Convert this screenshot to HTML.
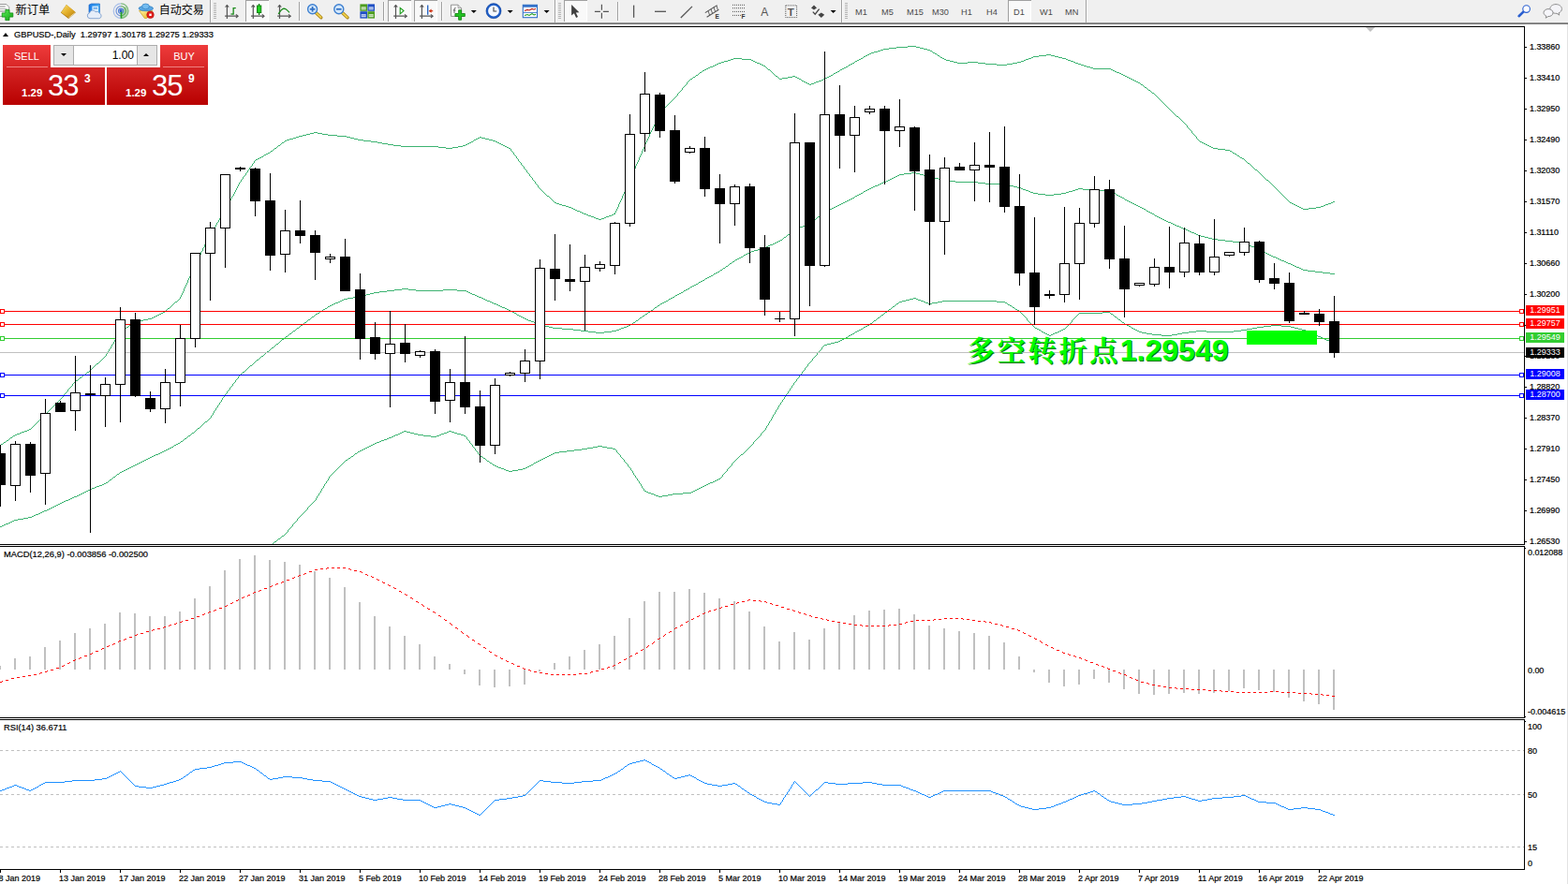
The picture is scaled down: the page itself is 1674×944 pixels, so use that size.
<!DOCTYPE html>
<html><head><meta charset="utf-8"><title>GBPUSD Daily</title>
<style>
html,body{margin:0;padding:0;background:#fff;}
body{width:1674px;height:944px;position:relative;overflow:hidden;font-family:"Liberation Sans",sans-serif;font-size:9px;color:#000;}
#tb{position:absolute;left:0;top:0;width:1674px;height:25px;background:#f0f0f0;}
#tbl{position:absolute;left:0;top:24px;width:1674px;height:2px;background:linear-gradient(#a0a0a0,#696969);}
svg.main{position:absolute;left:0;top:0;}
.yl,.dl,.lbl{-webkit-text-stroke:0.2px #000;}
.yl{position:absolute;left:1633px;height:12px;line-height:12px;font-size:9px;white-space:nowrap;letter-spacing:-0.05px}
.dl{position:absolute;top:932px;height:12px;line-height:12px;font-size:9px;white-space:nowrap;}
.pb{position:absolute;left:1629px;width:41px;height:11px;line-height:11px;color:#fff;font-size:9px;text-indent:4.3px;white-space:nowrap;}
.lbl{position:absolute;height:12px;line-height:12px;font-size:9px;white-space:nowrap;}
.bignum{position:absolute;font-size:32px;font-weight:bold;line-height:36px;height:36px;color:#00ff00;white-space:nowrap;}
.bignum.sh{color:#007000;}
.tf{position:absolute;top:6.6px;height:13px;line-height:13px;font-size:9.2px;color:#4a4a4a;white-space:nowrap;}
#rb{position:absolute;left:1673px;top:26px;width:1px;height:918px;background:#e3e3e3;}
/* one click panel */
#oc{position:absolute;left:3px;top:48px;width:219px;height:64px;}
.red{position:absolute;background:linear-gradient(#ee3b3b 0%,#d42222 45%,#b80000 100%);}
.oct{position:absolute;color:#fff;white-space:nowrap;}
</style></head><body>
<div id="tb"></div><div id="tbl"></div><div id="rb"></div>
<svg class="main" width="1674" height="944" viewBox="0 0 1674 944" shape-rendering="crispEdges">
<defs><clipPath id="cm"><rect x="0" y="29" width="1627" height="552"/></clipPath></defs>
<rect x="0" y="28" width="1628" height="1" fill="#000" /><rect x="1627" y="28" width="1" height="901" fill="#000" /><rect x="0" y="581" width="1628" height="1" fill="#000" /><rect x="0" y="583" width="1628" height="1" fill="#000" /><rect x="0" y="766" width="1628" height="1" fill="#000" /><rect x="0" y="768" width="1628" height="1" fill="#000" /><rect x="0" y="928" width="1628" height="1" fill="#000" /><g clip-path="url(#cm)"><path d="M0 475.5h1M1 474.5h2M3 473.5h1M4 472.5h2M6 471.5h1M7 470.5h2M9 469.5h1M10 468.5h1M11 467.5h2M13 466.5h1M14 465.5h2M16 464.5h2M18 463.5h3M21 462.5h2M23 461.5h3M26 460.5h3M29 459.5h2M31 458.5h2M33 457.5h1M34 456.5h1M35 455.5h1M36 454.5h1M37 453.5h1M38 452.5h1M39 451.5h1M40 450.5h1M41 449.5h1M42 448.5h1M43 447.5h1M44 446.5h1M45 445.5h1M46 444.5h1M47 443.5h1M48 442.5h1M49 441.5h1M50 440.5h1M51 439.5h1M52 438.5h1M53 437.5h1M54 436.5h1M55 435.5h1M56 434.5h1M57 433.5h1M58 432.5h1M59 431.5h1M60 430.5h1M61 429.5h1M62 428.5h1M63 427.5h1M64 426.5h1M65 425.5h1M66 424.5h1M67.5 422v2M68 421.5h1M69 420.5h1M70 419.5h1M71 418.5h1M72.5 416v2M73 415.5h1M74 414.5h1M75 413.5h1M76 412.5h1M77.5 410v2M78 409.5h1M79 408.5h1M80 407.5h1M81 406.5h2M83 405.5h1M84 404.5h1M85 403.5h2M87 402.5h1M88 401.5h1M89 400.5h2M91 399.5h1M92 398.5h1M93 397.5h2M95 396.5h1M96 395.5h1M97 394.5h1M98 393.5h1M99 392.5h1M100 391.5h1M101 390.5h1M102 389.5h1M103 388.5h2M105 387.5h1M106 386.5h1M107 385.5h1M108 384.5h1M109 383.5h1M110 382.5h1M111 381.5h1M112 380.5h1M113.5 378v2M114.5 376v2M115 375.5h1M116.5 373v2M117 372.5h1M118.5 370v2M119.5 368v2M120 367.5h1M121.5 365v2M122.5 363v2M123 362.5h1M124.5 360v2M125 359.5h1M126.5 357v2M127.5 355v2M128 354.5h1M129 353.5h2M131 352.5h1M132 351.5h2M134 350.5h1M135 349.5h2M137 348.5h1M138 347.5h1M139 346.5h2M141 345.5h1M142 344.5h2M144 343.5h3M147 342.5h6M153 341.5h5M158 340.5h4M162 339.5h2M164 338.5h2M166 337.5h2M168 336.5h2M170 335.5h2M172 334.5h2M174 333.5h2M176 332.5h1M177 331.5h1M178 330.5h1M179 329.5h2M181 328.5h1M182 327.5h1M183 326.5h1M184 325.5h1M185 324.5h1M186 323.5h1M187 322.5h2M189 321.5h1M190 320.5h1M191 319.5h1M192.5 317v2M193.5 315v2M194.5 313v2M195.5 311v2M196.5 308v3M197.5 306v2M198.5 304v2M199.5 302v2M200.5 299v3M201.5 297v2M202.5 295v2M203.5 293v2M204.5 290v3M205.5 288v2M206.5 286v2M207.5 284v2M208.5 281v3M209 280.5h1M210.5 277v3M211 276.5h1M212.5 273v3M213 272.5h1M214.5 269v3M215 268.5h1M216.5 265v3M217 264.5h1M218.5 261v3M219 260.5h1M220.5 257v3M221 256.5h1M222.5 253v3M223 252.5h1M224.5 250v2M225.5 248v2M226.5 246v2M227 245.5h1M228.5 243v2M229 242.5h1M230.5 240v2M231.5 238v2M232 237.5h1M233.5 235v2M234.5 233v2M235 232.5h1M236.5 230v2M237 229.5h1M238.5 227v2M239.5 225v2M240 224.5h1M241.5 222v2M242.5 220v2M243.5 218v2M244.5 216v2M245.5 214v2M246.5 212v2M247.5 210v2M248 209.5h1M249.5 207v2M250.5 205v2M251.5 203v2M252.5 201v2M253.5 199v2M254.5 197v2M255.5 195v2M256 194.5h1M257.5 192v2M258 191.5h1M259.5 189v2M260 188.5h1M261 187.5h1M262.5 185v2M263 184.5h1M264.5 182v2M265 181.5h1M266.5 179v2M267 178.5h1M268 177.5h1M269.5 175v2M270 174.5h1M271.5 172v2M272 171.5h1M273 170.5h2M275 169.5h2M277 168.5h2M279 167.5h2M281 166.5h1M282 165.5h2M284 164.5h2M286 163.5h2M288 162.5h1M289 161.5h2M291 160.5h1M292 159.5h1M293 158.5h2M295 157.5h1M296 156.5h1M297 155.5h2M299 154.5h1M300 153.5h1M301 152.5h2M303 151.5h1M304 150.5h2M306 149.5h3M309 148.5h4M313 147.5h3M316 146.5h3M319 145.5h4M323 144.5h4M327 143.5h4M331 142.5h4M335 141.5h4M339 142.5h5M344 143.5h6M350 144.5h10M360 145.5h10M370 146.5h4M374 147.5h4M378 148.5h4M382 149.5h6M388 150.5h8M396 151.5h7M403 152.5h5M408 153.5h6M414 154.5h6M420 155.5h8M428 156.5h40M468 157.5h8M476 158.5h7M483 157.5h6M489 156.5h5M494 155.5h3M497 154.5h2M499 153.5h2M501 152.5h2M503 151.5h2M505 150.5h1M506 149.5h2M508 148.5h2M510 147.5h2M512 146.5h2M514 147.5h4M518 148.5h4M522 149.5h4M526 150.5h3M529 151.5h2M531 152.5h2M533 153.5h2M535 154.5h2M537 155.5h2M539 156.5h2M541 157.5h2M543 158.5h2M545.5 159v2M546 161.5h1M547 162.5h1M548.5 163v2M549 165.5h1M550 166.5h1M551.5 167v2M552 169.5h1M553.5 170v2M554 172.5h1M555 173.5h1M556.5 174v2M557 176.5h1M558 177.5h1M559.5 178v2M560 180.5h1M561 181.5h1M562.5 182v2M563 184.5h1M564 185.5h1M565.5 186v2M566 188.5h1M567 189.5h1M568.5 190v2M569 192.5h1M570 193.5h1M571.5 194v2M572 196.5h1M573 197.5h1M574.5 198v2M575 200.5h1M576 201.5h1M577 202.5h1M578 203.5h1M579 204.5h1M580 205.5h1M581 206.5h1M582 207.5h1M583 208.5h1M584 209.5h2M586 210.5h1M587 211.5h1M588 212.5h1M589 213.5h1M590 214.5h1M591 215.5h1M592 216.5h2M594 217.5h3M597 218.5h3M600 219.5h4M604 220.5h3M607 221.5h3M610 222.5h2M612 223.5h2M614 224.5h2M616 225.5h3M619 226.5h2M621 227.5h2M623 228.5h3M626 229.5h2M628 230.5h3M631 231.5h3M634 232.5h2M636 233.5h3M639 234.5h3M642 233.5h3M645 232.5h2M647 231.5h3M650 230.5h3M653 229.5h2M655 228.5h2M656 227.5h1M657.5 225v2M658.5 223v2M659.5 221v2M660.5 218v3M661.5 216v2M662.5 214v2M663.5 212v2M664.5 209v3M665.5 207v2M666.5 205v2M667.5 203v2M668.5 200v3M669.5 198v2M670.5 196v2M671.5 194v2M672.5 191v3M673.5 189v2M674.5 187v2M675.5 184v3M676.5 182v2M677.5 180v2M678.5 177v3M679.5 175v2M680.5 173v2M681.5 171v2M682.5 168v3M683.5 166v2M684.5 164v2M685.5 161v3M686.5 159v2M687.5 157v2M688.5 154v3M689.5 152v2M690.5 150v2M691.5 148v2M692.5 146v2M693.5 143v3M694.5 141v2M695.5 139v2M696.5 137v2M697.5 135v2M698.5 133v2M699.5 130v3M700.5 128v2M701.5 126v2M702.5 124v2M703.5 122v2M704.5 120v2M705 119.5h1M706 118.5h1M707 117.5h1M708 116.5h1M709 115.5h1M710 114.5h1M711 113.5h1M712 112.5h1M713 111.5h1M714 110.5h1M715 109.5h1M716 108.5h1M717 107.5h1M718 106.5h1M719 105.5h1M720 104.5h1M721 103.5h1M722 102.5h1M723.5 100v2M724 99.5h1M725 98.5h1M726 97.5h1M727 96.5h1M728.5 94v2M729 93.5h1M730 92.5h1M731 91.5h1M732 90.5h1M733.5 88v2M734 87.5h1M735 86.5h1M736 85.5h1M737 84.5h2M739 83.5h1M740 82.5h2M742 81.5h1M743 80.5h2M745 79.5h1M746 78.5h1M747 77.5h2M749 76.5h1M750 75.5h2M752 74.5h2M754 73.5h2M756 72.5h2M758 71.5h3M761 70.5h2M763 69.5h2M765 68.5h2M767 67.5h3M770 66.5h3M773 65.5h4M777 64.5h3M780 63.5h3M783 62.5h9M792 63.5h10M802 64.5h2M804 65.5h2M806 66.5h2M808 67.5h3M811 68.5h2M813 69.5h2M815 70.5h2M817 71.5h1M818 72.5h1M819 73.5h1M820 74.5h2M822 75.5h1M823 76.5h1M824 77.5h1M825 78.5h1M826 79.5h1M827 80.5h1M828 81.5h2M830 82.5h1M831 83.5h1M832 84.5h3M835 83.5h6M841 82.5h5M846 81.5h3M849 82.5h2M851 83.5h2M853 84.5h2M855 85.5h1M856 86.5h2M858 87.5h2M860 88.5h2M862 89.5h2M864 90.5h2M866 89.5h3M869 88.5h2M871 87.5h3M874 86.5h3M877 85.5h2M879 84.5h2M881 83.5h2M883 82.5h2M885 81.5h2M887 80.5h2M889 79.5h1M890 78.5h2M892 77.5h2M894 76.5h2M896 75.5h1M897 74.5h2M899 73.5h2M901 72.5h2M903 71.5h2M905 70.5h1M906 69.5h2M908 68.5h2M910 67.5h2M912 66.5h1M913 65.5h2M915 64.5h2M917 63.5h2M919 62.5h2M921 61.5h1M922 60.5h2M924 59.5h2M926 58.5h2M928 57.5h2M930 56.5h3M933 55.5h4M937 54.5h3M940 53.5h3M943 52.5h6M949 51.5h8M957 50.5h12M969 49.5h9M978 50.5h4M982 51.5h4M986 52.5h4M990 53.5h3M993 54.5h2M995 55.5h1M996 56.5h2M998 57.5h2M1000 58.5h1M1001 59.5h2M1003 60.5h1M1004 61.5h2M1006 62.5h2M1008 63.5h2M1010 64.5h4M1014 65.5h4M1018 66.5h4M1022 67.5h11M1033 66.5h11M1044 67.5h8M1052 68.5h12M1064 69.5h11M1075 68.5h6M1081 67.5h5M1086 66.5h4M1090 65.5h3M1093 64.5h2M1095 63.5h3M1098 62.5h3M1101 61.5h2M1103 60.5h6M1109 59.5h8M1117 58.5h5M1122 59.5h4M1126 60.5h4M1130 61.5h4M1134 62.5h4M1138 63.5h2M1140 64.5h3M1143 65.5h3M1146 66.5h2M1148 67.5h3M1151 68.5h3M1154 69.5h3M1157 70.5h3M1160 71.5h4M1164 72.5h3M1167 73.5h19M1186 74.5h2M1188 75.5h2M1190 76.5h2M1192 77.5h3M1195 78.5h2M1197 79.5h2M1199 80.5h2M1201 81.5h2M1203 82.5h2M1205 83.5h2M1207 84.5h2M1209 85.5h2M1211 86.5h2M1213 87.5h2M1215 88.5h2M1217 89.5h1M1218 90.5h2M1220 91.5h1M1221 92.5h1M1222 93.5h2M1224 94.5h1M1225 95.5h1M1226 96.5h2M1228 97.5h1M1229 98.5h1M1230 99.5h2M1232 100.5h1M1233 101.5h1M1234 102.5h1M1235 103.5h1M1236 104.5h1M1237 105.5h1M1238 106.5h1M1239 107.5h1M1240 108.5h1M1241 109.5h1M1242 110.5h1M1243 111.5h1M1244 112.5h1M1245 113.5h1M1246 114.5h1M1247 115.5h1M1248 116.5h1M1249 117.5h1M1250 118.5h1M1251 119.5h1M1252 120.5h1M1253 121.5h1M1254 122.5h1M1255 123.5h1M1256 124.5h2M1258 125.5h1M1259 126.5h1M1260 127.5h1M1261 128.5h1M1262 129.5h1M1263 130.5h1M1264 131.5h1M1265 132.5h1M1266 133.5h1M1267.5 134v2M1268 136.5h1M1269 137.5h1M1270 138.5h1M1271 139.5h1M1272.5 140v2M1273 142.5h1M1274 143.5h1M1275 144.5h1M1276 145.5h1M1277.5 146v2M1278 148.5h1M1279 149.5h1M1280 150.5h1M1281 151.5h2M1283 152.5h2M1285 153.5h2M1287 154.5h2M1289 155.5h2M1291 156.5h2M1293 157.5h2M1295 158.5h5M1300 159.5h8M1308 160.5h5M1313 161.5h2M1315 162.5h1M1316 163.5h2M1318 164.5h2M1320 165.5h1M1321 166.5h2M1323 167.5h1M1324 168.5h2M1326 169.5h2M1328 170.5h1M1329 171.5h1M1330 172.5h1M1331 173.5h1M1332 174.5h2M1334 175.5h1M1335 176.5h1M1336 177.5h1M1337 178.5h1M1338 179.5h1M1339 180.5h1M1340 181.5h2M1342 182.5h1M1343 183.5h1M1344 184.5h1M1345 185.5h1M1346 186.5h1M1347 187.5h1M1348 188.5h1M1349 189.5h1M1350 190.5h1M1351 191.5h1M1352 192.5h2M1354 193.5h1M1355 194.5h1M1356 195.5h1M1357 196.5h1M1358 197.5h1M1359 198.5h1M1360 199.5h1M1361 200.5h1M1362 201.5h1M1363 202.5h1M1364 203.5h1M1365 204.5h1M1366 205.5h1M1367 206.5h1M1368 207.5h1M1369 208.5h1M1370 209.5h1M1371 210.5h1M1372 211.5h1M1373 212.5h1M1374 213.5h1M1375 214.5h1M1376 215.5h1M1377 216.5h2M1379 217.5h2M1381 218.5h2M1383 219.5h2M1385 220.5h2M1387 221.5h2M1389 222.5h2M1391 223.5h6M1397 222.5h8M1405 221.5h5M1410 220.5h3M1413 219.5h2M1415 218.5h3M1418 217.5h3M1421 216.5h2M1423 215.5h2" fill="none" stroke="#3cb371" stroke-width="1" /><path d="M0 562.5h2M2 561.5h2M4 560.5h2M6 559.5h3M9 558.5h2M11 557.5h2M13 556.5h2M15 555.5h4M19 554.5h6M25 553.5h5M30 552.5h4M34 551.5h2M36 550.5h2M38 549.5h3M41 548.5h2M43 547.5h2M45 546.5h2M47 545.5h3M50 544.5h2M52 543.5h2M54 542.5h2M56 541.5h2M58 540.5h2M60 539.5h2M62 538.5h2M64 537.5h2M66 536.5h2M68 535.5h2M70 534.5h3M73 533.5h2M75 532.5h2M77 531.5h2M79 530.5h3M82 529.5h2M84 528.5h2M86 527.5h2M88 526.5h2M90 525.5h2M92 524.5h2M94 523.5h2M96 522.5h2M98 521.5h3M101 520.5h2M103 519.5h3M106 518.5h3M109 517.5h2M111 516.5h2M113 515.5h2M115 514.5h1M116 513.5h1M117 512.5h2M119 511.5h1M120 510.5h1M121 509.5h2M123 508.5h1M124 507.5h1M125 506.5h2M127 505.5h1M128 504.5h2M130 503.5h2M132 502.5h2M134 501.5h2M136 500.5h2M138 499.5h2M140 498.5h2M142 497.5h2M144 496.5h2M146 495.5h2M148 494.5h2M150 493.5h2M152 492.5h2M154 491.5h2M156 490.5h2M158 489.5h2M160 488.5h2M162 487.5h2M164 486.5h2M166 485.5h3M169 484.5h2M171 483.5h2M173 482.5h2M175 481.5h2M177 480.5h2M179 479.5h2M181 478.5h2M183 477.5h2M185 476.5h1M186 475.5h2M188 474.5h2M190 473.5h2M192 472.5h1M193 471.5h2M195 470.5h1M196 469.5h1M197 468.5h2M199 467.5h1M200 466.5h1M201 465.5h2M203 464.5h1M204 463.5h1M205 462.5h2M207 461.5h1M208 460.5h1M209 459.5h1M210 458.5h1M211 457.5h2M213 456.5h1M214 455.5h1M215 454.5h1M216 453.5h1M217 452.5h1M218 451.5h1M219 450.5h2M221 449.5h1M222 448.5h1M223 447.5h1M224 446.5h1M225.5 444v2M226 443.5h1M227.5 441v2M228.5 439v2M229 438.5h1M230.5 436v2M231 435.5h1M232.5 433v2M233 432.5h1M234.5 430v2M235 429.5h1M236.5 427v2M237.5 425v2M238 424.5h1M239.5 422v2M240 421.5h1M241 420.5h1M242.5 418v2M243 417.5h1M244 416.5h1M245.5 414v2M246 413.5h1M247 412.5h1M248.5 410v2M249 409.5h1M250 408.5h1M251.5 406v2M252 405.5h1M253 404.5h1M254.5 402v2M255 401.5h1M256 400.5h1M257 399.5h1M258 398.5h1M259 397.5h2M261 396.5h1M262 395.5h1M263 394.5h1M264 393.5h1M265 392.5h1M266 391.5h1M267 390.5h2M269 389.5h1M270 388.5h1M271 387.5h1M272 386.5h1M273 385.5h1M274 384.5h2M276 383.5h1M277 382.5h1M278 381.5h1M279 380.5h2M281 379.5h1M282 378.5h1M283 377.5h1M284 376.5h1M285 375.5h2M287 374.5h1M288 373.5h1M289 372.5h1M290 371.5h2M292 370.5h1M293 369.5h1M294 368.5h1M295 367.5h2M297 366.5h1M298 365.5h1M299 364.5h1M300 363.5h1M301 362.5h2M303 361.5h1M304 360.5h1M305 359.5h2M307 358.5h1M308 357.5h1M309 356.5h2M311 355.5h1M312 354.5h1M313 353.5h2M315 352.5h1M316 351.5h1M317 350.5h2M319 349.5h1M320 348.5h1M321 347.5h2M323 346.5h1M324 345.5h1M325 344.5h2M327 343.5h1M328 342.5h1M329 341.5h2M331 340.5h1M332 339.5h1M333 338.5h2M335 337.5h1M336 336.5h1M337 335.5h2M339 334.5h2M341 333.5h1M342 332.5h2M344 331.5h1M345 330.5h2M347 329.5h2M349 328.5h1M350 327.5h2M352 326.5h2M354 325.5h2M356 324.5h2M358 323.5h3M361 322.5h2M363 321.5h2M365 320.5h2M367 319.5h4M371 318.5h6M377 317.5h5M382 316.5h5M387 315.5h4M391 314.5h4M395 313.5h4M399 312.5h6M405 311.5h8M413 310.5h8M421 309.5h8M429 308.5h7M436 309.5h8M444 310.5h29M473 309.5h15M488 310.5h10M498 311.5h2M500 312.5h2M502 313.5h2M504 314.5h3M507 315.5h2M509 316.5h2M511 317.5h3M514 318.5h2M516 319.5h2M518 320.5h2M520 321.5h3M523 322.5h2M525 323.5h2M527 324.5h3M530 325.5h2M532 326.5h2M534 327.5h2M536 328.5h3M539 329.5h2M541 330.5h2M543 331.5h2M545 332.5h2M547 333.5h2M549 334.5h2M551 335.5h1M552 336.5h2M554 337.5h2M556 338.5h2M558 339.5h2M560 340.5h2M562 341.5h2M564 342.5h3M567 343.5h3M570 344.5h2M572 345.5h3M575 346.5h3M578 347.5h4M582 348.5h4M586 349.5h4M590 350.5h10M600 351.5h12M612 352.5h8M620 353.5h8M628 354.5h8M636 355.5h9M645 354.5h8M653 353.5h5M658 352.5h3M661 351.5h2M663 350.5h3M666 349.5h3M669 348.5h2M671 347.5h2M673 346.5h2M675 345.5h1M676 344.5h2M678 343.5h1M679 342.5h2M681 341.5h1M682 340.5h1M683 339.5h2M685 338.5h1M686 337.5h2M688 336.5h1M689 335.5h2M691 334.5h1M692 333.5h2M694 332.5h1M695 331.5h2M697 330.5h1M698 329.5h1M699 328.5h2M701 327.5h1M702 326.5h2M704 325.5h1M705 324.5h2M707 323.5h2M709 322.5h2M711 321.5h2M713 320.5h1M714 319.5h2M716 318.5h2M718 317.5h2M720 316.5h1M721 315.5h2M723 314.5h2M725 313.5h2M727 312.5h2M729 311.5h1M730 310.5h2M732 309.5h2M734 308.5h2M736 307.5h1M737 306.5h2M739 305.5h2M741 304.5h2M743 303.5h2M745 302.5h1M746 301.5h2M748 300.5h2M750 299.5h2M752 298.5h1M753 297.5h2M755 296.5h2M757 295.5h2M759 294.5h2M761 293.5h1M762 292.5h2M764 291.5h2M766 290.5h2M768 289.5h1M769 288.5h2M771 287.5h1M772 286.5h2M774 285.5h1M775 284.5h2M777 283.5h1M778 282.5h1M779 281.5h2M781 280.5h1M782 279.5h2M784 278.5h1M785 277.5h2M787 276.5h2M789 275.5h2M791 274.5h2M793 273.5h1M794 272.5h2M796 271.5h2M798 270.5h2M800 269.5h2M802 268.5h3M805 267.5h4M809 266.5h3M812 265.5h3M815 264.5h3M818 263.5h2M820 262.5h2M822 261.5h3M825 260.5h2M827 259.5h2M829 258.5h2M831 257.5h2M833 256.5h2M835 255.5h1M836 254.5h1M837 253.5h2M839 252.5h1M840 251.5h1M841 250.5h2M843 249.5h1M844 248.5h1M845 247.5h2M847 246.5h1M848 245.5h2M850 244.5h2M852 243.5h2M854 242.5h3M857 241.5h2M859 240.5h2M861 239.5h2M863 238.5h2M865 237.5h2M867 236.5h1M868 235.5h1M869 234.5h2M871 233.5h1M872 232.5h1M873 231.5h2M875 230.5h1M876 229.5h1M877 228.5h2M879 227.5h1M880 226.5h2M882 225.5h2M884 224.5h2M886 223.5h2M888 222.5h2M890 221.5h2M892 220.5h2M894 219.5h2M896 218.5h2M898 217.5h2M900 216.5h2M902 215.5h2M904 214.5h2M906 213.5h2M908 212.5h2M910 211.5h2M912 210.5h1M913 209.5h2M915 208.5h2M917 207.5h2M919 206.5h2M921 205.5h1M922 204.5h2M924 203.5h2M926 202.5h2M928 201.5h2M930 200.5h2M932 199.5h2M934 198.5h3M937 197.5h2M939 196.5h2M941 195.5h2M943 194.5h3M946 193.5h2M948 192.5h2M950 191.5h2M952 190.5h2M954 189.5h2M956 188.5h2M958 187.5h2M960 186.5h5M965 185.5h8M973 184.5h5M978 185.5h4M982 186.5h4M986 187.5h4M990 188.5h4M994 189.5h4M998 190.5h4M1002 191.5h4M1006 192.5h6M1012 193.5h8M1020 194.5h24M1044 195.5h8M1052 196.5h22M1074 197.5h4M1078 198.5h4M1082 199.5h4M1086 200.5h4M1090 201.5h2M1092 202.5h3M1095 203.5h3M1098 204.5h2M1100 205.5h3M1103 206.5h5M1108 207.5h8M1116 208.5h9M1125 207.5h8M1133 206.5h5M1138 205.5h3M1141 204.5h4M1145 203.5h3M1148 202.5h3M1151 201.5h5M1156 202.5h8M1164 203.5h21M1185 204.5h2M1187 205.5h2M1189 206.5h2M1191 207.5h1M1192 208.5h2M1194 209.5h2M1196 210.5h2M1198 211.5h2M1200 212.5h1M1201 213.5h2M1203 214.5h2M1205 215.5h2M1207 216.5h2M1209 217.5h2M1211 218.5h2M1213 219.5h2M1215 220.5h2M1217 221.5h2M1219 222.5h2M1221 223.5h2M1223 224.5h1M1224 225.5h2M1226 226.5h2M1228 227.5h2M1230 228.5h2M1232 229.5h1M1233 230.5h2M1235 231.5h2M1237 232.5h2M1239 233.5h2M1241 234.5h2M1243 235.5h2M1245 236.5h2M1247 237.5h3M1250 238.5h2M1252 239.5h2M1254 240.5h2M1256 241.5h3M1259 242.5h2M1261 243.5h2M1263 244.5h3M1266 245.5h2M1268 246.5h2M1270 247.5h2M1272 248.5h3M1275 249.5h2M1277 250.5h2M1279 251.5h3M1282 252.5h4M1286 253.5h4M1290 254.5h4M1294 255.5h6M1300 256.5h8M1308 257.5h8M1316 258.5h8M1324 259.5h6M1330 260.5h2M1332 261.5h2M1334 262.5h2M1336 263.5h3M1339 264.5h2M1341 265.5h2M1343 266.5h2M1345 267.5h2M1347 268.5h2M1349 269.5h2M1351 270.5h2M1353 271.5h2M1355 272.5h2M1357 273.5h2M1359 274.5h3M1362 275.5h2M1364 276.5h2M1366 277.5h2M1368 278.5h3M1371 279.5h2M1373 280.5h2M1375 281.5h3M1378 282.5h2M1380 283.5h2M1382 284.5h2M1384 285.5h3M1387 286.5h2M1389 287.5h2M1391 288.5h5M1396 289.5h8M1404 290.5h8M1412 291.5h8M1420 292.5h5" fill="none" stroke="#3cb371" stroke-width="1" /><path d="M272 596.5h1M273 595.5h1M274 594.5h1M275 593.5h2M277 592.5h1M278 591.5h1M279 590.5h1M280 589.5h1M281 588.5h1M282 587.5h1M283 586.5h2M285 585.5h1M286 584.5h1M287 583.5h1M288 582.5h1M289 581.5h2M291 580.5h1M292 579.5h1M293 578.5h2M295 577.5h1M296 576.5h1M297 575.5h2M299 574.5h1M300 573.5h1M301 572.5h2M303 571.5h1M304 570.5h1M305 569.5h1M306 568.5h1M307.5 566v2M308 565.5h1M309 564.5h1M310 563.5h1M311 562.5h1M312.5 560v2M313 559.5h1M314 558.5h1M315 557.5h1M316 556.5h1M317.5 554v2M318 553.5h1M319 552.5h1M320 551.5h1M321 550.5h1M322 549.5h1M323 548.5h1M324 547.5h1M325 546.5h1M326 545.5h1M327 544.5h1M328.5 542v2M329 541.5h1M330 540.5h1M331 539.5h1M332 538.5h1M333 537.5h1M334 536.5h1M335 535.5h1M336 534.5h1M337.5 532v2M338.5 530v2M339 529.5h1M340.5 527v2M341 526.5h1M342.5 524v2M343.5 522v2M344 521.5h1M345.5 519v2M346.5 517v2M347 516.5h1M348.5 514v2M349 513.5h1M350.5 511v2M351.5 509v2M352 508.5h1M353 507.5h1M354 506.5h1M355 505.5h1M356 504.5h1M357 503.5h1M358 502.5h1M359 501.5h1M360 500.5h1M361 499.5h1M362 498.5h1M363 497.5h1M364 496.5h1M365 495.5h1M366 494.5h1M367 493.5h1M368 492.5h1M369 491.5h2M371 490.5h1M372 489.5h2M374 488.5h1M375 487.5h2M377 486.5h1M378 485.5h1M379 484.5h2M381 483.5h1M382 482.5h2M384 481.5h2M386 480.5h2M388 479.5h2M390 478.5h2M392 477.5h2M394 476.5h2M396 475.5h2M398 474.5h2M400 473.5h2M402 472.5h3M405 471.5h2M407 470.5h3M410 469.5h3M413 468.5h2M415 467.5h3M418 466.5h2M420 465.5h2M422 464.5h3M425 463.5h2M427 462.5h2M429 461.5h2M431 460.5h3M434 461.5h4M438 462.5h4M442 463.5h4M446 464.5h6M452 465.5h8M460 466.5h6M466 465.5h3M469 464.5h2M471 463.5h3M474 462.5h3M477 461.5h2M479 460.5h3M482 461.5h3M485 462.5h3M488 463.5h4M492 464.5h3M495 465.5h2M497 466.5h1M498.5 467v2M499 469.5h1M500 470.5h1M501.5 471v2M502 473.5h1M503 474.5h1M504.5 475v2M505 477.5h1M506 478.5h1M507.5 479v2M508 481.5h1M509 482.5h1M510.5 483v2M511 485.5h1M512 486.5h1M513 487.5h2M515 488.5h1M516 489.5h2M518 490.5h1M519 491.5h1M520 492.5h2M522 493.5h1M523 494.5h2M525 495.5h1M526 496.5h2M528 497.5h2M530 498.5h2M532 499.5h3M535 500.5h3M538 501.5h2M540 502.5h3M543 503.5h4M547 502.5h6M553 501.5h5M558 500.5h3M561 499.5h2M563 498.5h2M565 497.5h2M567 496.5h2M569 495.5h1M570 494.5h2M572 493.5h2M574 492.5h2M576 491.5h2M578 490.5h2M580 489.5h2M582 488.5h2M584 487.5h2M586 486.5h2M588 485.5h2M590 484.5h2M592 483.5h5M597 482.5h8M605 481.5h8M613 480.5h8M621 479.5h6M627 478.5h6M633 477.5h5M638 476.5h5M643 477.5h5M648 478.5h6M654 479.5h3M657 480.5h1M658.5 481v2M659 483.5h1M660 484.5h1M661 485.5h1M662.5 486v2M663 488.5h1M664 489.5h1M665 490.5h1M666.5 491v2M667 493.5h1M668 494.5h1M669 495.5h1M670.5 496v2M671 498.5h1M672 499.5h1M673.5 500v2M674 502.5h1M675.5 503v2M676.5 505v2M677 507.5h1M678.5 508v2M679 510.5h1M680.5 511v2M681 513.5h1M682.5 514v2M683 516.5h1M684.5 517v2M685.5 519v2M686 521.5h1M687.5 522v2M688 524.5h2M690 525.5h2M692 526.5h3M695 527.5h3M698 528.5h2M700 529.5h3M703 530.5h4M707 529.5h6M713 528.5h5M718 527.5h11M729 526.5h9M738 525.5h2M740 524.5h2M742 523.5h2M744 522.5h2M746 521.5h2M748 520.5h2M750 519.5h2M752 518.5h2M754 517.5h2M756 516.5h2M758 515.5h3M761 514.5h2M763 513.5h2M765 512.5h2M767 511.5h2M769 510.5h1M770 509.5h1M771.5 507v2M772 506.5h1M773 505.5h1M774 504.5h1M775 503.5h1M776.5 501v2M777 500.5h1M778 499.5h1M779 498.5h1M780 497.5h1M781.5 495v2M782 494.5h1M783 493.5h1M784 492.5h1M785 491.5h1M786 490.5h1M787 489.5h1M788 488.5h1M789 487.5h1M790 486.5h1M791 485.5h2M793 484.5h1M794 483.5h1M795 482.5h1M796 481.5h1M797 480.5h1M798 479.5h1M799 478.5h1M800 477.5h1M801 476.5h1M802 475.5h1M803 474.5h1M804.5 472v2M805 471.5h1M806 470.5h1M807 469.5h1M808 468.5h1M809 467.5h1M810 466.5h1M811 465.5h1M812.5 463v2M813 462.5h1M814 461.5h1M815 460.5h1M816 459.5h1M817.5 457v2M818.5 455v2M819 454.5h1M820.5 452v2M821.5 450v2M822 449.5h1M823.5 447v2M824.5 445v2M825.5 443v2M826 442.5h1M827.5 440v2M828.5 438v2M829 437.5h1M830.5 435v2M831.5 433v2M832 432.5h1M833.5 430v2M834 429.5h1M835.5 427v2M836 426.5h1M837.5 424v2M838 423.5h1M839.5 421v2M840 420.5h1M841.5 418v2M842 417.5h1M843.5 415v2M844 414.5h1M845.5 412v2M846 411.5h1M847.5 409v2M848 408.5h1M849 407.5h1M850.5 405v2M851 404.5h1M852 403.5h1M853.5 401v2M854 400.5h1M855 399.5h1M856.5 397v2M857 396.5h1M858 395.5h1M859.5 393v2M860 392.5h1M861 391.5h1M862.5 389v2M863 388.5h1M864 387.5h1M865 386.5h1M866 385.5h1M867.5 383v2M868 382.5h1M869 381.5h1M870 380.5h1M871 379.5h1M872.5 377v2M873 376.5h1M874 375.5h1M875 374.5h1M876 373.5h1M877.5 371v2M878 370.5h1M879 369.5h1M880 368.5h3M883 367.5h4M887 366.5h4M891 365.5h4M895 364.5h2M897 363.5h2M899 362.5h2M901 361.5h2M903 360.5h2M905 359.5h1M906 358.5h2M908 357.5h2M910 356.5h2M912 355.5h1M913 354.5h2M915 353.5h2M917 352.5h2M919 351.5h2M921 350.5h1M922 349.5h2M924 348.5h2M926 347.5h2M928 346.5h1M929 345.5h2M931 344.5h1M932 343.5h1M933 342.5h2M935 341.5h1M936 340.5h1M937 339.5h2M939 338.5h1M940 337.5h1M941 336.5h2M943 335.5h1M944 334.5h1M945 333.5h2M947 332.5h1M948 331.5h1M949 330.5h2M951 329.5h1M952 328.5h1M953 327.5h2M955 326.5h1M956 325.5h1M957 324.5h2M959 323.5h1M960 322.5h3M963 321.5h4M967 320.5h4M971 319.5h4M975 318.5h3M978 319.5h2M980 320.5h3M983 321.5h3M986 322.5h2M988 323.5h3M991 324.5h4M995 323.5h6M1001 322.5h5M1006 321.5h58M1064 322.5h9M1073 323.5h2M1075 324.5h1M1076 325.5h2M1078 326.5h2M1080 327.5h1M1081 328.5h2M1083 329.5h1M1084 330.5h2M1086 331.5h2M1088 332.5h1M1089 333.5h1M1090 334.5h1M1091 335.5h1M1092 336.5h1M1093 337.5h1M1094 338.5h1M1095 339.5h1M1096.5 340v2M1097 342.5h1M1098 343.5h1M1099 344.5h1M1100 345.5h1M1101 346.5h1M1102 347.5h1M1103 348.5h1M1104 349.5h1M1105 350.5h2M1107 351.5h2M1109 352.5h2M1111 353.5h1M1112 354.5h2M1114 355.5h2M1116 356.5h2M1118 357.5h2M1120 358.5h2M1122 357.5h2M1124 356.5h2M1126 355.5h3M1129 354.5h2M1131 353.5h2M1133 352.5h2M1135 351.5h2M1137 350.5h1M1138 349.5h1M1139 348.5h1M1140 347.5h1M1141 346.5h1M1142 345.5h1M1143 344.5h1M1144.5 342v2M1145 341.5h1M1146 340.5h1M1147 339.5h1M1148 338.5h1M1149 337.5h1M1150 336.5h1M1151 335.5h1M1152 334.5h25M1177 333.5h8M1185 334.5h1M1186 335.5h2M1188 336.5h1M1189 337.5h1M1190 338.5h2M1192 339.5h1M1193 340.5h1M1194 341.5h2M1196 342.5h1M1197 343.5h1M1198 344.5h2M1200 345.5h1M1201 346.5h2M1203 347.5h2M1205 348.5h2M1207 349.5h1M1208 350.5h2M1210 351.5h2M1212 352.5h2M1214 353.5h2M1216 354.5h3M1219 355.5h5M1224 356.5h6M1230 357.5h10M1240 358.5h11M1251 357.5h6M1257 356.5h5M1262 355.5h7M1269 354.5h8M1277 353.5h11M1288 354.5h29M1317 353.5h8M1325 352.5h6M1331 351.5h6M1337 350.5h5M1342 349.5h7M1349 348.5h8M1357 347.5h11M1368 348.5h10M1378 349.5h4M1382 350.5h4M1386 351.5h4M1390 352.5h4M1394 353.5h2M1396 354.5h2M1398 355.5h2M1400 356.5h3M1403 357.5h2M1405 358.5h2M1407 359.5h3M1410 360.5h2M1412 361.5h2M1414 362.5h2M1416 363.5h3M1419 364.5h2M1421 365.5h2M1423 366.5h2" fill="none" stroke="#3cb371" stroke-width="1" /></g><rect x="0" y="332" width="1627" height="1" fill="#ff0000"/><rect x="0" y="346" width="1627" height="1" fill="#ff0000"/><rect x="0" y="361" width="1627" height="1" fill="#32cd32"/><rect x="0" y="376" width="1627" height="1" fill="#c0c0c0"/><rect x="0" y="400" width="1627" height="1" fill="#0000ff"/><rect x="0" y="422" width="1627" height="1" fill="#0000ff"/><rect x="1331" y="353" width="75" height="15" fill="#00ff00" /><g clip-path="url(#cm)"><rect x="0" y="475" width="1" height="66" fill="#000" /><rect x="-5" y="484" width="11" height="34" fill="#000" /><rect x="16" y="471" width="1" height="64" fill="#000" /><rect x="11" y="474" width="11" height="45" fill="#000" /><rect x="12" y="475" width="9" height="43" fill="#fff" /><rect x="32" y="472" width="1" height="54" fill="#000" /><rect x="27" y="474" width="11" height="34" fill="#000" /><rect x="48" y="426" width="1" height="113" fill="#000" /><rect x="43" y="441" width="11" height="65" fill="#000" /><rect x="44" y="442" width="9" height="63" fill="#fff" /><rect x="64" y="428" width="1" height="12" fill="#000" /><rect x="59" y="430" width="11" height="10" fill="#000" /><rect x="80" y="380" width="1" height="80" fill="#000" /><rect x="75" y="419" width="11" height="20" fill="#000" /><rect x="76" y="420" width="9" height="18" fill="#fff" /><rect x="96" y="390" width="1" height="179" fill="#000" /><rect x="91" y="420" width="11" height="2" fill="#000" /><rect x="112" y="403" width="1" height="53" fill="#000" /><rect x="107" y="410" width="11" height="13" fill="#000" /><rect x="108" y="411" width="9" height="11" fill="#fff" /><rect x="128" y="328" width="1" height="123" fill="#000" /><rect x="123" y="341" width="11" height="70" fill="#000" /><rect x="124" y="342" width="9" height="68" fill="#fff" /><rect x="144" y="334" width="1" height="90" fill="#000" /><rect x="139" y="341" width="11" height="82" fill="#000" /><rect x="160" y="418" width="1" height="22" fill="#000" /><rect x="155" y="425" width="11" height="12" fill="#000" /><rect x="176" y="394" width="1" height="58" fill="#000" /><rect x="171" y="408" width="11" height="29" fill="#000" /><rect x="172" y="409" width="9" height="27" fill="#fff" /><rect x="192" y="347" width="1" height="87" fill="#000" /><rect x="187" y="361" width="11" height="48" fill="#000" /><rect x="188" y="362" width="9" height="46" fill="#fff" /><rect x="208" y="270" width="1" height="101" fill="#000" /><rect x="203" y="270" width="11" height="92" fill="#000" /><rect x="204" y="271" width="9" height="90" fill="#fff" /><rect x="224" y="237" width="1" height="84" fill="#000" /><rect x="219" y="243" width="11" height="28" fill="#000" /><rect x="220" y="244" width="9" height="26" fill="#fff" /><rect x="240" y="186" width="1" height="100" fill="#000" /><rect x="235" y="186" width="11" height="58" fill="#000" /><rect x="236" y="187" width="9" height="56" fill="#fff" /><rect x="256" y="178" width="1" height="5" fill="#000" /><rect x="251" y="179" width="11" height="2" fill="#000" /><rect x="272" y="179" width="1" height="52" fill="#000" /><rect x="267" y="180" width="11" height="35" fill="#000" /><rect x="288" y="185" width="1" height="104" fill="#000" /><rect x="283" y="214" width="11" height="59" fill="#000" /><rect x="304" y="224" width="1" height="67" fill="#000" /><rect x="299" y="246" width="11" height="26" fill="#000" /><rect x="300" y="247" width="9" height="24" fill="#fff" /><rect x="320" y="214" width="1" height="46" fill="#000" /><rect x="315" y="246" width="11" height="6" fill="#000" /><rect x="336" y="246" width="1" height="53" fill="#000" /><rect x="331" y="251" width="11" height="19" fill="#000" /><rect x="352" y="271" width="1" height="10" fill="#000" /><rect x="347" y="274" width="11" height="3" fill="#000" /><rect x="348" y="275" width="9" height="1" fill="#fff" /><rect x="368" y="255" width="1" height="56" fill="#000" /><rect x="363" y="274" width="11" height="37" fill="#000" /><rect x="384" y="292" width="1" height="92" fill="#000" /><rect x="379" y="309" width="11" height="53" fill="#000" /><rect x="400" y="344" width="1" height="40" fill="#000" /><rect x="395" y="360" width="11" height="18" fill="#000" /><rect x="416" y="332" width="1" height="103" fill="#000" /><rect x="411" y="367" width="11" height="11" fill="#000" /><rect x="412" y="368" width="9" height="9" fill="#fff" /><rect x="432" y="346" width="1" height="41" fill="#000" /><rect x="427" y="366" width="11" height="12" fill="#000" /><rect x="448" y="374" width="1" height="8" fill="#000" /><rect x="443" y="375" width="11" height="5" fill="#000" /><rect x="444" y="376" width="9" height="3" fill="#fff" /><rect x="464" y="373" width="1" height="69" fill="#000" /><rect x="459" y="375" width="11" height="54" fill="#000" /><rect x="480" y="394" width="1" height="57" fill="#000" /><rect x="475" y="408" width="11" height="20" fill="#000" /><rect x="476" y="409" width="9" height="18" fill="#fff" /><rect x="496" y="359" width="1" height="83" fill="#000" /><rect x="491" y="408" width="11" height="27" fill="#000" /><rect x="512" y="417" width="1" height="77" fill="#000" /><rect x="507" y="434" width="11" height="42" fill="#000" /><rect x="528" y="404" width="1" height="81" fill="#000" /><rect x="523" y="411" width="11" height="65" fill="#000" /><rect x="524" y="412" width="9" height="63" fill="#fff" /><rect x="544" y="397" width="1" height="5" fill="#000" /><rect x="539" y="398" width="11" height="3" fill="#000" /><rect x="540" y="399" width="9" height="1" fill="#fff" /><rect x="560" y="373" width="1" height="35" fill="#000" /><rect x="555" y="385" width="11" height="14" fill="#000" /><rect x="556" y="386" width="9" height="12" fill="#fff" /><rect x="576" y="277" width="1" height="128" fill="#000" /><rect x="571" y="286" width="11" height="100" fill="#000" /><rect x="572" y="287" width="9" height="98" fill="#fff" /><rect x="592" y="250" width="1" height="71" fill="#000" /><rect x="587" y="287" width="11" height="11" fill="#000" /><rect x="608" y="261" width="1" height="50" fill="#000" /><rect x="603" y="298" width="11" height="3" fill="#000" /><rect x="624" y="272" width="1" height="81" fill="#000" /><rect x="619" y="285" width="11" height="16" fill="#000" /><rect x="620" y="286" width="9" height="14" fill="#fff" /><rect x="640" y="279" width="1" height="11" fill="#000" /><rect x="635" y="282" width="11" height="5" fill="#000" /><rect x="636" y="283" width="9" height="3" fill="#fff" /><rect x="656" y="237" width="1" height="56" fill="#000" /><rect x="651" y="238" width="11" height="46" fill="#000" /><rect x="652" y="239" width="9" height="44" fill="#fff" /><rect x="672" y="122" width="1" height="120" fill="#000" /><rect x="667" y="143" width="11" height="96" fill="#000" /><rect x="668" y="144" width="9" height="94" fill="#fff" /><rect x="688" y="77" width="1" height="85" fill="#000" /><rect x="683" y="100" width="11" height="43" fill="#000" /><rect x="684" y="101" width="9" height="41" fill="#fff" /><rect x="704" y="99" width="1" height="48" fill="#000" /><rect x="699" y="101" width="11" height="39" fill="#000" /><rect x="720" y="123" width="1" height="73" fill="#000" /><rect x="715" y="139" width="11" height="55" fill="#000" /><rect x="736" y="156" width="1" height="8" fill="#000" /><rect x="731" y="158" width="11" height="5" fill="#000" /><rect x="732" y="159" width="9" height="3" fill="#fff" /><rect x="752" y="146" width="1" height="64" fill="#000" /><rect x="747" y="158" width="11" height="44" fill="#000" /><rect x="768" y="186" width="1" height="74" fill="#000" /><rect x="763" y="201" width="11" height="17" fill="#000" /><rect x="784" y="197" width="1" height="44" fill="#000" /><rect x="779" y="199" width="11" height="19" fill="#000" /><rect x="780" y="200" width="9" height="17" fill="#fff" /><rect x="800" y="196" width="1" height="85" fill="#000" /><rect x="795" y="199" width="11" height="66" fill="#000" /><rect x="816" y="251" width="1" height="86" fill="#000" /><rect x="811" y="264" width="11" height="56" fill="#000" /><rect x="832" y="333" width="1" height="11" fill="#000" /><rect x="827" y="340" width="11" height="1" fill="#000" /><rect x="848" y="121" width="1" height="238" fill="#000" /><rect x="843" y="152" width="11" height="189" fill="#000" /><rect x="844" y="153" width="9" height="187" fill="#fff" /><rect x="864" y="152" width="1" height="175" fill="#000" /><rect x="859" y="152" width="11" height="132" fill="#000" /><rect x="880" y="55" width="1" height="230" fill="#000" /><rect x="875" y="122" width="11" height="162" fill="#000" /><rect x="876" y="123" width="9" height="160" fill="#fff" /><rect x="896" y="91" width="1" height="89" fill="#000" /><rect x="891" y="122" width="11" height="23" fill="#000" /><rect x="912" y="113" width="1" height="71" fill="#000" /><rect x="907" y="125" width="11" height="20" fill="#000" /><rect x="908" y="126" width="9" height="18" fill="#fff" /><rect x="928" y="113" width="1" height="9" fill="#000" /><rect x="923" y="116" width="11" height="4" fill="#000" /><rect x="924" y="117" width="9" height="2" fill="#fff" /><rect x="944" y="113" width="1" height="84" fill="#000" /><rect x="939" y="116" width="11" height="24" fill="#000" /><rect x="960" y="106" width="1" height="51" fill="#000" /><rect x="955" y="135" width="11" height="5" fill="#000" /><rect x="956" y="136" width="9" height="3" fill="#fff" /><rect x="976" y="135" width="1" height="90" fill="#000" /><rect x="971" y="136" width="11" height="47" fill="#000" /><rect x="992" y="165" width="1" height="161" fill="#000" /><rect x="987" y="181" width="11" height="56" fill="#000" /><rect x="1008" y="168" width="1" height="104" fill="#000" /><rect x="1003" y="179" width="11" height="58" fill="#000" /><rect x="1004" y="180" width="9" height="56" fill="#fff" /><rect x="1024" y="174" width="1" height="8" fill="#000" /><rect x="1019" y="178" width="11" height="4" fill="#000" /><rect x="1040" y="152" width="1" height="63" fill="#000" /><rect x="1035" y="176" width="11" height="6" fill="#000" /><rect x="1036" y="177" width="9" height="4" fill="#fff" /><rect x="1056" y="141" width="1" height="75" fill="#000" /><rect x="1051" y="176" width="11" height="3" fill="#000" /><rect x="1072" y="135" width="1" height="92" fill="#000" /><rect x="1067" y="178" width="11" height="43" fill="#000" /><rect x="1088" y="186" width="1" height="119" fill="#000" /><rect x="1083" y="220" width="11" height="72" fill="#000" /><rect x="1104" y="232" width="1" height="115" fill="#000" /><rect x="1099" y="291" width="11" height="37" fill="#000" /><rect x="1120" y="310" width="1" height="9" fill="#000" /><rect x="1115" y="314" width="11" height="2" fill="#000" /><rect x="1136" y="221" width="1" height="102" fill="#000" /><rect x="1131" y="281" width="11" height="34" fill="#000" /><rect x="1132" y="282" width="9" height="32" fill="#fff" /><rect x="1152" y="222" width="1" height="98" fill="#000" /><rect x="1147" y="238" width="11" height="44" fill="#000" /><rect x="1148" y="239" width="9" height="42" fill="#fff" /><rect x="1168" y="188" width="1" height="55" fill="#000" /><rect x="1163" y="202" width="11" height="37" fill="#000" /><rect x="1164" y="203" width="9" height="35" fill="#fff" /><rect x="1184" y="192" width="1" height="95" fill="#000" /><rect x="1179" y="202" width="11" height="75" fill="#000" /><rect x="1200" y="241" width="1" height="98" fill="#000" /><rect x="1195" y="276" width="11" height="33" fill="#000" /><rect x="1216" y="302" width="1" height="4" fill="#000" /><rect x="1211" y="302" width="11" height="3" fill="#000" /><rect x="1212" y="303" width="9" height="1" fill="#fff" /><rect x="1232" y="276" width="1" height="30" fill="#000" /><rect x="1227" y="285" width="11" height="19" fill="#000" /><rect x="1228" y="286" width="9" height="17" fill="#fff" /><rect x="1248" y="242" width="1" height="66" fill="#000" /><rect x="1243" y="285" width="11" height="6" fill="#000" /><rect x="1264" y="243" width="1" height="53" fill="#000" /><rect x="1259" y="259" width="11" height="32" fill="#000" /><rect x="1260" y="260" width="9" height="30" fill="#fff" /><rect x="1280" y="251" width="1" height="43" fill="#000" /><rect x="1275" y="260" width="11" height="31" fill="#000" /><rect x="1296" y="234" width="1" height="60" fill="#000" /><rect x="1291" y="274" width="11" height="17" fill="#000" /><rect x="1292" y="275" width="9" height="15" fill="#fff" /><rect x="1312" y="269" width="1" height="5" fill="#000" /><rect x="1307" y="269" width="11" height="4" fill="#000" /><rect x="1308" y="270" width="9" height="2" fill="#fff" /><rect x="1328" y="243" width="1" height="30" fill="#000" /><rect x="1323" y="258" width="11" height="12" fill="#000" /><rect x="1324" y="259" width="9" height="10" fill="#fff" /><rect x="1344" y="257" width="1" height="45" fill="#000" /><rect x="1339" y="258" width="11" height="41" fill="#000" /><rect x="1360" y="281" width="1" height="28" fill="#000" /><rect x="1355" y="297" width="11" height="6" fill="#000" /><rect x="1376" y="291" width="1" height="54" fill="#000" /><rect x="1371" y="302" width="11" height="41" fill="#000" /><rect x="1392" y="332" width="1" height="4" fill="#000" /><rect x="1387" y="334" width="11" height="2" fill="#000" /><rect x="1408" y="330" width="1" height="18" fill="#000" /><rect x="1403" y="335" width="11" height="9" fill="#000" /><rect x="1424" y="316" width="1" height="66" fill="#000" /><rect x="1419" y="343" width="11" height="34" fill="#000" /></g><rect x="0.5" y="330.5" width="4" height="4" fill="#fff" stroke="#ff0000" stroke-width="1"/><rect x="1622.5" y="330.5" width="4" height="4" fill="#fff" stroke="#ff0000" stroke-width="1"/><rect x="0.5" y="344.5" width="4" height="4" fill="#fff" stroke="#ff0000" stroke-width="1"/><rect x="1622.5" y="344.5" width="4" height="4" fill="#fff" stroke="#ff0000" stroke-width="1"/><rect x="0.5" y="359.5" width="4" height="4" fill="#fff" stroke="#32cd32" stroke-width="1"/><rect x="1622.5" y="359.5" width="4" height="4" fill="#fff" stroke="#32cd32" stroke-width="1"/><rect x="0.5" y="398.5" width="4" height="4" fill="#fff" stroke="#0000ff" stroke-width="1"/><rect x="1622.5" y="398.5" width="4" height="4" fill="#fff" stroke="#0000ff" stroke-width="1"/><rect x="0.5" y="420.5" width="4" height="4" fill="#fff" stroke="#0000ff" stroke-width="1"/><rect x="1622.5" y="420.5" width="4" height="4" fill="#fff" stroke="#0000ff" stroke-width="1"/><rect x="-1" y="711" width="2" height="4" fill="#c0c0c0" /><rect x="15" y="703" width="2" height="12" fill="#c0c0c0" /><rect x="31" y="701" width="2" height="14" fill="#c0c0c0" /><rect x="47" y="691" width="2" height="24" fill="#c0c0c0" /><rect x="63" y="684" width="2" height="31" fill="#c0c0c0" /><rect x="79" y="676" width="2" height="39" fill="#c0c0c0" /><rect x="95" y="671" width="2" height="44" fill="#c0c0c0" /><rect x="111" y="666" width="2" height="49" fill="#c0c0c0" /><rect x="127" y="654" width="2" height="61" fill="#c0c0c0" /><rect x="143" y="655" width="2" height="60" fill="#c0c0c0" /><rect x="159" y="658" width="2" height="57" fill="#c0c0c0" /><rect x="175" y="658" width="2" height="57" fill="#c0c0c0" /><rect x="191" y="653" width="2" height="62" fill="#c0c0c0" /><rect x="207" y="639" width="2" height="76" fill="#c0c0c0" /><rect x="223" y="626" width="2" height="89" fill="#c0c0c0" /><rect x="239" y="609" width="2" height="106" fill="#c0c0c0" /><rect x="255" y="597" width="2" height="118" fill="#c0c0c0" /><rect x="271" y="593" width="2" height="122" fill="#c0c0c0" /><rect x="287" y="598" width="2" height="117" fill="#c0c0c0" /><rect x="303" y="600" width="2" height="115" fill="#c0c0c0" /><rect x="319" y="603" width="2" height="112" fill="#c0c0c0" /><rect x="335" y="610" width="2" height="105" fill="#c0c0c0" /><rect x="351" y="617" width="2" height="98" fill="#c0c0c0" /><rect x="367" y="627" width="2" height="88" fill="#c0c0c0" /><rect x="383" y="643" width="2" height="72" fill="#c0c0c0" /><rect x="399" y="658" width="2" height="57" fill="#c0c0c0" /><rect x="415" y="669" width="2" height="46" fill="#c0c0c0" /><rect x="431" y="679" width="2" height="36" fill="#c0c0c0" /><rect x="447" y="688" width="2" height="27" fill="#c0c0c0" /><rect x="463" y="701" width="2" height="14" fill="#c0c0c0" /><rect x="479" y="709" width="2" height="6" fill="#c0c0c0" /><rect x="495" y="715" width="2" height="5" fill="#c0c0c0" /><rect x="511" y="715" width="2" height="17" fill="#c0c0c0" /><rect x="527" y="715" width="2" height="19" fill="#c0c0c0" /><rect x="543" y="715" width="2" height="18" fill="#c0c0c0" /><rect x="559" y="715" width="2" height="16" fill="#c0c0c0" /><rect x="575" y="715" width="2" height="2" fill="#c0c0c0" /><rect x="591" y="708" width="2" height="7" fill="#c0c0c0" /><rect x="607" y="701" width="2" height="14" fill="#c0c0c0" /><rect x="623" y="694" width="2" height="21" fill="#c0c0c0" /><rect x="639" y="688" width="2" height="27" fill="#c0c0c0" /><rect x="655" y="679" width="2" height="36" fill="#c0c0c0" /><rect x="671" y="660" width="2" height="55" fill="#c0c0c0" /><rect x="687" y="642" width="2" height="73" fill="#c0c0c0" /><rect x="703" y="632" width="2" height="83" fill="#c0c0c0" /><rect x="719" y="632" width="2" height="83" fill="#c0c0c0" /><rect x="735" y="629" width="2" height="86" fill="#c0c0c0" /><rect x="751" y="633" width="2" height="82" fill="#c0c0c0" /><rect x="767" y="639" width="2" height="76" fill="#c0c0c0" /><rect x="783" y="642" width="2" height="73" fill="#c0c0c0" /><rect x="799" y="653" width="2" height="62" fill="#c0c0c0" /><rect x="815" y="669" width="2" height="46" fill="#c0c0c0" /><rect x="831" y="685" width="2" height="30" fill="#c0c0c0" /><rect x="847" y="675" width="2" height="40" fill="#c0c0c0" /><rect x="863" y="683" width="2" height="32" fill="#c0c0c0" /><rect x="879" y="671" width="2" height="44" fill="#c0c0c0" /><rect x="895" y="664" width="2" height="51" fill="#c0c0c0" /><rect x="911" y="657" width="2" height="58" fill="#c0c0c0" /><rect x="927" y="652" width="2" height="63" fill="#c0c0c0" /><rect x="943" y="651" width="2" height="64" fill="#c0c0c0" /><rect x="959" y="650" width="2" height="65" fill="#c0c0c0" /><rect x="975" y="656" width="2" height="59" fill="#c0c0c0" /><rect x="991" y="668" width="2" height="47" fill="#c0c0c0" /><rect x="1007" y="671" width="2" height="44" fill="#c0c0c0" /><rect x="1023" y="674" width="2" height="41" fill="#c0c0c0" /><rect x="1039" y="676" width="2" height="39" fill="#c0c0c0" /><rect x="1055" y="679" width="2" height="36" fill="#c0c0c0" /><rect x="1071" y="686" width="2" height="29" fill="#c0c0c0" /><rect x="1087" y="701" width="2" height="14" fill="#c0c0c0" /><rect x="1103" y="715" width="2" height="3" fill="#c0c0c0" /><rect x="1119" y="715" width="2" height="14" fill="#c0c0c0" /><rect x="1135" y="715" width="2" height="18" fill="#c0c0c0" /><rect x="1151" y="715" width="2" height="16" fill="#c0c0c0" /><rect x="1167" y="715" width="2" height="10" fill="#c0c0c0" /><rect x="1183" y="715" width="2" height="14" fill="#c0c0c0" /><rect x="1199" y="715" width="2" height="21" fill="#c0c0c0" /><rect x="1215" y="715" width="2" height="26" fill="#c0c0c0" /><rect x="1231" y="715" width="2" height="27" fill="#c0c0c0" /><rect x="1247" y="715" width="2" height="26" fill="#c0c0c0" /><rect x="1263" y="715" width="2" height="25" fill="#c0c0c0" /><rect x="1279" y="715" width="2" height="26" fill="#c0c0c0" /><rect x="1295" y="715" width="2" height="25" fill="#c0c0c0" /><rect x="1311" y="715" width="2" height="23" fill="#c0c0c0" /><rect x="1327" y="715" width="2" height="20" fill="#c0c0c0" /><rect x="1343" y="715" width="2" height="22" fill="#c0c0c0" /><rect x="1359" y="715" width="2" height="24" fill="#c0c0c0" /><rect x="1375" y="715" width="2" height="30" fill="#c0c0c0" /><rect x="1391" y="715" width="2" height="34" fill="#c0c0c0" /><rect x="1407" y="715" width="2" height="37" fill="#c0c0c0" /><rect x="1423" y="715" width="2" height="43" fill="#c0c0c0" /><path d="M0 728.5h2M2 727.5h1M6 726.5h3M12 724.5h3M18 723.5h3M24 722.5h3M30 721.5h3M36 720.5h3M42 719.5h1M43 718.5h2M48 717.5h2M50 716.5h1M54 715.5h3M60 713.5h3M66 711.5h2M68 710.5h1M72 708.5h2M74 707.5h1M78 705.5h2M80 704.5h1M84 703.5h1M85 702.5h2M90 700.5h3M96 698.5h2M98 697.5h1M102 695.5h3M108 693.5h1M109 692.5h2M114 690.5h2M116 689.5h1M120 688.5h1M121 687.5h2M126 685.5h1M127 684.5h2M132 683.5h1M133 682.5h2M138 680.5h3M144 678.5h2M146 677.5h1M150 676.5h3M156 674.5h3M162 673.5h1M163 672.5h2M168 671.5h3M174 670.5h1M175 669.5h2M180 668.5h1M181 667.5h2M186 666.5h2M188 665.5h1M192 664.5h2M194 663.5h1M198 662.5h3M204 660.5h3M210 658.5h3M216 656.5h2M218 655.5h1M222 654.5h1M223 653.5h2M228 652.5h1M229 651.5h2M234 649.5h3M240 647.5h2M242 646.5h1M246 644.5h2M248 643.5h1M252 641.5h2M254 640.5h1M258 638.5h2M260 637.5h1M264 636.5h1M265 635.5h2M270 633.5h1M271 632.5h2M276 631.5h1M277 630.5h2M282 628.5h3M288 626.5h2M290 625.5h1M294 624.5h1M295 623.5h2M300 622.5h1M301 621.5h2M306 619.5h3M312 617.5h2M314 616.5h1M318 615.5h1M319 614.5h2M324 613.5h1M325 612.5h2M330 610.5h3M336 608.5h3M342 607.5h3M348 607.5h1M349 606.5h2M354 606.5h3M360 606.5h3M366 606.5h3M372 607.5h2M374 608.5h1M378 609.5h3M384 610.5h2M386 611.5h1M390 613.5h2M392 614.5h1M396 615.5h1M397 616.5h2M402 618.5h1M403 619.5h2M408 621.5h1M409 622.5h2M414 624.5h1M415 625.5h2M420 627.5h1M421 628.5h2M426 631.5h2M428 632.5h1M432 634.5h1M433 635.5h2M438 638.5h2M440 639.5h1M444 642.5h2M446 643.5h1M450 645.5h1M451 646.5h1M452 647.5h1M456 649.5h1M457 650.5h2M462 653.5h2M464 654.5h1M468 657.5h2M470 658.5h1M474 661.5h1M475 662.5h2M480 665.5h1M481 666.5h1M482 667.5h1M486 670.5h2M488 671.5h1M492 674.5h1M493 675.5h1M494 676.5h1M498 678.5h1M499 679.5h1M500 680.5h1M504 683.5h2M506 684.5h1M510 687.5h2M512 688.5h1M516 691.5h2M518 692.5h1M522 695.5h1M523 696.5h2M528 699.5h1M529 700.5h2M534 702.5h1M535 703.5h2M540 705.5h1M541 706.5h2M546 708.5h2M548 709.5h1M552 711.5h3M558 713.5h1M559 714.5h2M564 715.5h2M566 716.5h1M570 717.5h3M576 718.5h3M582 719.5h3M588 720.5h3M594 720.5h3M600 720.5h3M606 720.5h3M612 720.5h3M618 719.5h3M624 719.5h3M630 718.5h1M631 717.5h2M636 716.5h3M642 714.5h3M648 713.5h1M649 712.5h2M654 711.5h1M655 710.5h2M660 708.5h1M661 707.5h2M666 704.5h2M668 703.5h1M672 701.5h1M673 700.5h2M678 698.5h1M679 697.5h2M684 694.5h2M686 693.5h1M690 691.5h1M691 690.5h1M692 689.5h1M696 687.5h1M697 686.5h1M698 685.5h1M702 682.5h2M704 681.5h1M708 679.5h1M709 678.5h1M710 677.5h1M714 675.5h1M715 674.5h2M720 671.5h1M721 670.5h2M726 668.5h1M727 667.5h2M732 664.5h2M734 663.5h1M738 661.5h2M740 660.5h1M744 658.5h2M746 657.5h1M750 655.5h2M752 654.5h1M756 653.5h1M757 652.5h2M762 651.5h2M764 650.5h1M768 649.5h2M770 648.5h1M774 647.5h3M780 645.5h3M786 644.5h1M787 643.5h2M792 642.5h3M798 641.5h1M799 640.5h2M804 641.5h3M810 641.5h2M812 642.5h1M816 642.5h2M818 643.5h1M822 644.5h2M824 645.5h1M828 646.5h3M834 648.5h3M840 650.5h3M846 651.5h1M847 652.5h2M852 653.5h1M853 654.5h2M858 655.5h2M860 656.5h1M864 657.5h2M866 658.5h1M870 659.5h3M876 660.5h2M878 661.5h1M882 661.5h1M883 662.5h2M888 663.5h3M894 664.5h3M900 665.5h3M906 666.5h3M912 667.5h3M918 667.5h2M920 668.5h1M924 668.5h3M930 668.5h3M936 668.5h3M942 668.5h3M948 668.5h1M949 667.5h2M954 667.5h3M960 666.5h3M966 665.5h1M967 664.5h2M972 663.5h3M978 662.5h3M984 662.5h3M990 662.5h3M996 662.5h1M997 661.5h2M1002 661.5h3M1008 660.5h3M1014 660.5h3M1020 660.5h3M1026 660.5h2M1028 661.5h1M1032 661.5h3M1038 662.5h3M1044 663.5h3M1050 663.5h2M1052 664.5h1M1056 664.5h2M1058 665.5h1M1062 666.5h3M1068 667.5h2M1070 668.5h1M1074 669.5h3M1080 671.5h3M1086 672.5h1M1087 673.5h2M1092 675.5h1M1093 676.5h2M1098 678.5h1M1099 679.5h2M1104 681.5h1M1105 682.5h2M1110 684.5h1M1111 685.5h1M1112 686.5h1M1116 688.5h2M1118 689.5h1M1122 691.5h2M1124 692.5h1M1128 694.5h3M1134 696.5h1M1135 697.5h2M1140 698.5h1M1141 699.5h2M1146 700.5h2M1148 701.5h1M1152 702.5h2M1154 703.5h1M1158 704.5h1M1159 705.5h2M1164 707.5h3M1170 709.5h2M1172 710.5h1M1176 711.5h2M1178 712.5h1M1182 713.5h1M1183 714.5h2M1188 716.5h3M1194 718.5h2M1196 719.5h1M1200 720.5h2M1202 721.5h1M1206 723.5h2M1208 724.5h1M1212 725.5h1M1213 726.5h2M1218 728.5h3M1224 729.5h2M1226 730.5h1M1230 731.5h3M1236 732.5h3M1242 733.5h3M1248 734.5h3M1254 734.5h2M1256 735.5h1M1260 735.5h3M1266 735.5h3M1272 736.5h3M1278 736.5h3M1284 736.5h3M1290 737.5h3M1296 737.5h3M1302 737.5h2M1304 738.5h1M1308 738.5h3M1314 738.5h3M1320 739.5h3M1326 739.5h3M1332 739.5h3M1338 739.5h3M1344 739.5h3M1350 739.5h3M1356 738.5h3M1362 738.5h3M1368 739.5h3M1374 739.5h3M1380 739.5h3M1386 740.5h3M1392 740.5h3M1398 740.5h2M1400 741.5h1M1404 741.5h3M1410 741.5h2M1412 742.5h1M1416 742.5h3M1422 743.5h3" fill="none" stroke="#ff0000" stroke-width="1" /><line x1="0" y1="801.5" x2="1627" y2="801.5" stroke="#c0c0c0" stroke-width="1" stroke-dasharray="3,3"/><line x1="0" y1="848.5" x2="1627" y2="848.5" stroke="#c0c0c0" stroke-width="1" stroke-dasharray="3,3"/><line x1="0" y1="904.5" x2="1627" y2="904.5" stroke="#c0c0c0" stroke-width="1" stroke-dasharray="3,3"/><path d="M0 844.5h2M2 843.5h3M5 842.5h2M7 841.5h3M10 840.5h3M13 839.5h2M15 838.5h3M18 839.5h2M20 840.5h3M23 841.5h3M26 842.5h2M28 843.5h3M31 844.5h2M33 843.5h2M35 842.5h2M37 841.5h2M39 840.5h2M41 839.5h1M42 838.5h2M44 837.5h2M46 836.5h2M48 835.5h21M69 834.5h8M77 833.5h24M101 832.5h8M109 831.5h5M114 830.5h2M116 829.5h2M118 828.5h2M120 827.5h2M122 826.5h2M124 825.5h2M126 824.5h2M128 823.5h1M129 824.5h1M130 825.5h1M131 826.5h1M132 827.5h1M133 828.5h1M134 829.5h1M135 830.5h1M136 831.5h1M137 832.5h1M138 833.5h1M139 834.5h1M140 835.5h1M141 836.5h1M142 837.5h1M143 838.5h1M144 839.5h4M148 840.5h8M156 841.5h7M163 840.5h4M167 839.5h4M171 838.5h4M175 837.5h3M178 836.5h3M181 835.5h4M185 834.5h3M188 833.5h3M191 832.5h2M193 831.5h2M195 830.5h1M196 829.5h2M198 828.5h1M199 827.5h2M201 826.5h1M202 825.5h1M203 824.5h2M205 823.5h1M206 822.5h2M208 821.5h5M213 820.5h8M221 819.5h5M226 818.5h3M229 817.5h4M233 816.5h3M236 815.5h3M239 814.5h10M249 813.5h9M258 814.5h2M260 815.5h2M262 816.5h2M264 817.5h3M267 818.5h2M269 819.5h2M271 820.5h2M273 821.5h1M274 822.5h2M276 823.5h1M277 824.5h1M278 825.5h2M280 826.5h1M281 827.5h1M282 828.5h2M284 829.5h1M285 830.5h1M286 831.5h2M288 832.5h3M291 831.5h6M297 830.5h5M302 829.5h10M312 830.5h11M323 831.5h5M328 832.5h6M334 833.5h10M344 834.5h9M353 835.5h2M355 836.5h2M357 837.5h2M359 838.5h2M361 839.5h2M363 840.5h2M365 841.5h2M367 842.5h2M369 843.5h2M371 844.5h2M373 845.5h2M375 846.5h2M377 847.5h2M379 848.5h2M381 849.5h2M383 850.5h3M386 851.5h4M390 852.5h4M394 853.5h4M398 854.5h5M403 853.5h6M409 852.5h5M414 851.5h5M419 852.5h5M424 853.5h6M430 854.5h19M449 855.5h2M451 856.5h2M453 857.5h2M455 858.5h2M457 859.5h2M459 860.5h2M461 861.5h2M463 862.5h4M467 861.5h4M471 860.5h4M475 859.5h4M479 858.5h3M482 859.5h4M486 860.5h4M490 861.5h4M494 862.5h3M497 863.5h2M499 864.5h2M501 865.5h2M503 866.5h2M505 867.5h2M507 868.5h2M509 869.5h2M511 870.5h2M513 869.5h1M514 868.5h1M515 867.5h1M516 866.5h1M517 865.5h1M518 864.5h1M519 863.5h1M520 862.5h1M521 861.5h1M522 860.5h1M523 859.5h1M524 858.5h1M525 857.5h1M526 856.5h1M527 855.5h1M528 854.5h5M533 853.5h8M541 852.5h6M547 851.5h6M553 850.5h5M558 849.5h3M561 848.5h1M562 847.5h1M563 846.5h1M564 845.5h1M565 844.5h1M566 843.5h1M567 842.5h1M568 841.5h1M569 840.5h1M570 839.5h1M571 838.5h1M572 837.5h1M573 836.5h1M574 835.5h1M575 834.5h1M576 833.5h4M580 834.5h8M588 835.5h12M600 836.5h13M613 835.5h8M621 834.5h12M633 833.5h9M642 832.5h2M644 831.5h2M646 830.5h3M649 829.5h2M651 828.5h2M653 827.5h2M655 826.5h2M657 825.5h2M659 824.5h1M660 823.5h2M662 822.5h1M663 821.5h2M665 820.5h1M666 819.5h1M667 818.5h2M669 817.5h1M670 816.5h2M672 815.5h3M675 814.5h4M679 813.5h4M683 812.5h4M687 811.5h2M689 812.5h2M691 813.5h2M693 814.5h2M695 815.5h1M696 816.5h2M698 817.5h2M700 818.5h2M702 819.5h2M704 820.5h1M705 821.5h2M707 822.5h1M708 823.5h2M710 824.5h1M711 825.5h1M712 826.5h2M714 827.5h1M715 828.5h2M717 829.5h1M718 830.5h2M720 831.5h3M723 830.5h4M727 829.5h4M731 828.5h4M735 827.5h2M737 828.5h2M739 829.5h2M741 830.5h2M743 831.5h1M744 832.5h2M746 833.5h2M748 834.5h2M750 835.5h2M752 836.5h3M755 837.5h5M760 838.5h6M766 839.5h5M771 838.5h6M777 837.5h5M782 836.5h3M785 837.5h2M787 838.5h1M788 839.5h2M790 840.5h1M791 841.5h1M792 842.5h2M794 843.5h1M795 844.5h2M797 845.5h1M798 846.5h2M800 847.5h1M801 848.5h2M803 849.5h2M805 850.5h2M807 851.5h1M808 852.5h2M810 853.5h2M812 854.5h2M814 855.5h2M816 856.5h3M819 857.5h5M824 858.5h6M830 859.5h3M833.5 857v2M834 856.5h1M835.5 854v2M836.5 852v2M837 851.5h1M838.5 849v2M839 848.5h1M840.5 846v2M841 845.5h1M842.5 843v2M843 842.5h1M844.5 840v2M845.5 838v2M846 837.5h1M847.5 835v2M848 834.5h1M849 835.5h1M850 836.5h1M851 837.5h1M852 838.5h1M853 839.5h1M854 840.5h1M855 841.5h1M856 842.5h1M857 843.5h1M858 844.5h1M859 845.5h1M860 846.5h1M861 847.5h1M862 848.5h1M863 849.5h1M864 850.5h1M865 849.5h1M866 848.5h1M867 847.5h1M868 846.5h1M869 845.5h1M870 844.5h1M871 843.5h2M873 842.5h1M874 841.5h1M875 840.5h1M876 839.5h1M877 838.5h1M878 837.5h1M879 836.5h1M880 835.5h4M884 836.5h8M892 837.5h13M905 836.5h16M921 835.5h10M931 836.5h5M936 837.5h6M942 838.5h20M962 839.5h2M964 840.5h3M967 841.5h3M970 842.5h2M972 843.5h3M975 844.5h3M978 845.5h2M980 846.5h2M982 847.5h2M984 848.5h3M987 849.5h2M989 850.5h2M991 851.5h3M994 850.5h2M996 849.5h2M998 848.5h3M1001 847.5h2M1003 846.5h2M1005 845.5h2M1007 844.5h51M1058 845.5h2M1060 846.5h3M1063 847.5h3M1066 848.5h2M1068 849.5h3M1071 850.5h2M1073 851.5h2M1075 852.5h1M1076 853.5h2M1078 854.5h2M1080 855.5h1M1081 856.5h2M1083 857.5h1M1084 858.5h2M1086 859.5h2M1088 860.5h2M1090 861.5h4M1094 862.5h4M1098 863.5h4M1102 864.5h7M1109 863.5h8M1117 862.5h5M1122 861.5h3M1125 860.5h2M1127 859.5h3M1130 858.5h3M1133 857.5h2M1135 856.5h3M1138 855.5h2M1140 854.5h2M1142 853.5h3M1145 852.5h2M1147 851.5h2M1149 850.5h2M1151 849.5h3M1154 848.5h3M1157 847.5h4M1161 846.5h3M1164 845.5h3M1167 844.5h2M1169 845.5h2M1171 846.5h1M1172 847.5h2M1174 848.5h1M1175 849.5h1M1176 850.5h2M1178 851.5h1M1179 852.5h2M1181 853.5h1M1182 854.5h2M1184 855.5h2M1186 856.5h4M1190 857.5h4M1194 858.5h4M1198 859.5h11M1209 858.5h10M1219 857.5h6M1225 856.5h5M1230 855.5h5M1235 854.5h6M1241 853.5h5M1246 852.5h7M1253 851.5h8M1261 850.5h5M1266 851.5h3M1269 852.5h3M1272 853.5h4M1276 854.5h3M1279 855.5h4M1283 854.5h6M1289 853.5h5M1294 852.5h11M1305 851.5h12M1317 850.5h8M1325 849.5h5M1330 850.5h2M1332 851.5h2M1334 852.5h2M1336 853.5h3M1339 854.5h2M1341 855.5h2M1343 856.5h9M1352 857.5h10M1362 858.5h2M1364 859.5h2M1366 860.5h2M1368 861.5h3M1371 862.5h2M1373 863.5h2M1375 864.5h6M1381 863.5h8M1389 862.5h7M1396 863.5h8M1404 864.5h6M1410 865.5h2M1412 866.5h3M1415 867.5h3M1418 868.5h2M1420 869.5h3M1423 870.5h2" fill="none" stroke="#1e90ff" stroke-width="1" /><rect x="1628" y="50" width="2" height="1" fill="#000" /><rect x="1628" y="83" width="2" height="1" fill="#000" /><rect x="1628" y="116" width="2" height="1" fill="#000" /><rect x="1628" y="149" width="2" height="1" fill="#000" /><rect x="1628" y="182" width="2" height="1" fill="#000" /><rect x="1628" y="215" width="2" height="1" fill="#000" /><rect x="1628" y="248" width="2" height="1" fill="#000" /><rect x="1628" y="281" width="2" height="1" fill="#000" /><rect x="1628" y="314" width="2" height="1" fill="#000" /><rect x="1628" y="347" width="2" height="1" fill="#000" /><rect x="1628" y="380" width="2" height="1" fill="#000" /><rect x="1628" y="413" width="2" height="1" fill="#000" /><rect x="1628" y="446" width="2" height="1" fill="#000" /><rect x="1628" y="479" width="2" height="1" fill="#000" /><rect x="1628" y="512" width="2" height="1" fill="#000" /><rect x="1628" y="545" width="2" height="1" fill="#000" /><rect x="1628" y="578" width="2" height="1" fill="#000" /><rect x="1628" y="585" width="1" height="1" fill="#000" /><rect x="1628" y="765" width="1" height="1" fill="#000" /><rect x="1628" y="770" width="1" height="1" fill="#000" /><rect x="1627" y="582" width="1" height="1" fill="#fff" /><rect x="1627" y="767" width="1" height="1" fill="#fff" /><rect x="0" y="929" width="1" height="3" fill="#000" /><rect x="64" y="929" width="1" height="3" fill="#000" /><rect x="128" y="929" width="1" height="3" fill="#000" /><rect x="192" y="929" width="1" height="3" fill="#000" /><rect x="256" y="929" width="1" height="3" fill="#000" /><rect x="320" y="929" width="1" height="3" fill="#000" /><rect x="384" y="929" width="1" height="3" fill="#000" /><rect x="448" y="929" width="1" height="3" fill="#000" /><rect x="512" y="929" width="1" height="3" fill="#000" /><rect x="576" y="929" width="1" height="3" fill="#000" /><rect x="640" y="929" width="1" height="3" fill="#000" /><rect x="704" y="929" width="1" height="3" fill="#000" /><rect x="768" y="929" width="1" height="3" fill="#000" /><rect x="832" y="929" width="1" height="3" fill="#000" /><rect x="896" y="929" width="1" height="3" fill="#000" /><rect x="960" y="929" width="1" height="3" fill="#000" /><rect x="1024" y="929" width="1" height="3" fill="#000" /><rect x="1088" y="929" width="1" height="3" fill="#000" /><rect x="1152" y="929" width="1" height="3" fill="#000" /><rect x="1216" y="929" width="1" height="3" fill="#000" /><rect x="1280" y="929" width="1" height="3" fill="#000" /><rect x="1344" y="929" width="1" height="3" fill="#000" /><rect x="1408" y="929" width="1" height="3" fill="#000" /><polygon points="1458,29 1468,29 1463,34" fill="#c0c0c0" shape-rendering="auto"/>
<g shape-rendering="auto"><text x="1033" y="385.5" font-size="30" font-weight="bold" letter-spacing="2.8" fill="#007000" style="font-family:'Liberation Serif','Noto Serif CJK SC',serif">多空转折点</text><text x="1032" y="384.5" font-size="30" font-weight="bold" letter-spacing="2.8" fill="#00ff00" style="font-family:'Liberation Serif','Noto Serif CJK SC',serif">多空转折点</text></g>
<g shape-rendering="auto"><text x="16.6" y="15.3" font-size="12.2" fill="#000" style="font-family:'Liberation Sans','Noto Sans CJK SC',sans-serif">新订单</text><text x="169.8" y="15.3" font-size="12" fill="#000" style="font-family:'Liberation Sans','Noto Sans CJK SC',sans-serif">自动交易</text></g>
<g shape-rendering="auto">
<defs><linearGradient id="gplus" x1="0" y1="0" x2="1" y2="1"><stop offset="0" stop-color="#5cf05c"/><stop offset="1" stop-color="#12a012"/></linearGradient><linearGradient id="gbook" x1="0" y1="0" x2="1" y2="1"><stop offset="0" stop-color="#f8e070"/><stop offset="0.5" stop-color="#e4b02c"/><stop offset="1" stop-color="#b8800e"/></linearGradient><linearGradient id="gsrv" x1="0" y1="0" x2="1" y2="0"><stop offset="0" stop-color="#1c7ce8"/><stop offset="1" stop-color="#48b0f4"/></linearGradient><linearGradient id="gfun" x1="0" y1="0" x2="1" y2="1"><stop offset="0" stop-color="#fff0a0"/><stop offset="1" stop-color="#e8b820"/></linearGradient></defs>
<path d="M-1 4.5H6.8L9.7 7.4V17.4H-1Z" fill="#fdfdfd" stroke="#8c8c8c" stroke-width="0.9"/>
<rect x="0" y="6.4" width="5.6" height="1.1" fill="#9a9a9a"/><rect x="0" y="8.9" width="7.4" height="1" fill="#b0b0b0"/><rect x="0" y="11.4" width="5" height="1.2" fill="#9a9a9a"/>
<path d="M5.8 10.6h4.2v3.300h3.800v4.200h-3.800v3.500h-4.200v-3.500h-3.600v-4.200h3.600z" fill="url(#gplus)" stroke="#0c8c0c" stroke-width="0.8" stroke-linejoin="miter"/>
<polygon points="70.9,5 80.9,13.5 73.2,19.9 64.9,13.4" fill="#b07a10"/>
<polygon points="70.9,5 80.4,12.8 72.9,18.4 65.4,13.2" fill="url(#gbook)"/>
<path d="M73.300 18.900L80.200 13.600" stroke="#f4e4b0" stroke-width="0.9" fill="none"/>
<path d="M95 5.2L97.600 4H106.400V13.600H95Z" fill="url(#gsrv)" stroke="#1a66c4" stroke-width="0.7"/>
<rect x="98.400" y="6.600" width="6.600" height="6.600" fill="#d8ecfc"/><rect x="99.600" y="8.300" width="4.400" height="1.100" fill="#3a8ce0"/>
<path d="M96 19.700a3 3 0 0 1 -.4 -5.900a3.500 3.500 0 0 1 6.400 -1.100a3.200 3.200 0 0 1 4.200 1.600a2.800 2.800 0 0 1 -.3 5.400z" fill="#e6eef9" stroke="#7f9fce" stroke-width="0.9"/>
<path d="M129.100 11.700L129.100 19.600A7.900 7.900 0 0 0 134.700 6.100Z" fill="#a9d3a3" opacity="0.85"/>
<path d="M129.100 3.800A7.900 7.900 0 0 0 129.100 19.600" fill="none" stroke="#a9bfe8" stroke-width="1.2"/>
<path d="M129.100 3.800A7.900 7.900 0 0 1 129.100 19.600" fill="none" stroke="#7fba7f" stroke-width="1.2"/>
<path d="M129.100 6.600A5.100 5.100 0 0 0 129.100 16.800" fill="none" stroke="#6f92d8" stroke-width="1.2"/>
<path d="M129.100 6.600A5.100 5.100 0 0 1 129.100 16.800" fill="none" stroke="#5fa85f" stroke-width="1.2"/>
<circle cx="129.100" cy="11.700" r="2.600" fill="none" stroke="#4f7fd4" stroke-width="1.100"/>
<path d="M129.400 11.800V19.500" stroke="#22a022" stroke-width="1.700"/><circle cx="129" cy="11.500" r="1.500" fill="#2558c8"/>
<polygon points="148.500,11.400 162.800,11.400 156.600,19.500 154.400,19.500" fill="url(#gfun)" stroke="#c9a21e" stroke-width="0.7"/>
<ellipse cx="155.800" cy="9" rx="7.700" ry="2.700" fill="#5aa8e4" stroke="#2f7cc0" stroke-width="0.7"/>
<ellipse cx="155.500" cy="6.900" rx="3.900" ry="2.900" fill="#74bcf0" stroke="#2f7cc0" stroke-width="0.7"/>
<circle cx="160.500" cy="15.800" r="3.800" fill="#e0201c" stroke="#b01010" stroke-width="0.6"/><rect x="159.300" y="14.600" width="2.400" height="2.400" fill="#fff"/>
<rect x="224" y="0" width="1" height="24" fill="#a0a0a0" shape-rendering="crispEdges"/><rect x="225" y="0" width="1" height="24" fill="#fff" shape-rendering="crispEdges"/>
<rect x="228" y="3" width="3" height="1" fill="#b4b4b4" shape-rendering="crispEdges"/>
<rect x="228" y="5" width="3" height="1" fill="#b4b4b4" shape-rendering="crispEdges"/>
<rect x="228" y="7" width="3" height="1" fill="#b4b4b4" shape-rendering="crispEdges"/>
<rect x="228" y="9" width="3" height="1" fill="#b4b4b4" shape-rendering="crispEdges"/>
<rect x="228" y="11" width="3" height="1" fill="#b4b4b4" shape-rendering="crispEdges"/>
<rect x="228" y="13" width="3" height="1" fill="#b4b4b4" shape-rendering="crispEdges"/>
<rect x="228" y="15" width="3" height="1" fill="#b4b4b4" shape-rendering="crispEdges"/>
<rect x="228" y="17" width="3" height="1" fill="#b4b4b4" shape-rendering="crispEdges"/>
<rect x="228" y="19" width="3" height="1" fill="#b4b4b4" shape-rendering="crispEdges"/>
<path d="M242.4 5.5V20M240.1 17.2H254.1" stroke="#555" stroke-width="1.2" fill="none"/>
<path d="M240.6 7.7L242.4 5.5L244.20000000000002 7.7M251.9 15.399999999999999L254.1 17.2L251.9 19.0" stroke="#555" stroke-width="1.1" fill="none"/>
<rect x="248.5" y="8" width="1.3" height="7.6" fill="#1a8a1a"/><rect x="249" y="8" width="2.8" height="1.2" fill="#1a8a1a"/><rect x="246.4" y="14.4" width="2.8" height="1.2" fill="#1a8a1a"/>
<rect x="262" y="0" width="25" height="23" fill="#f9f9f9" shape-rendering="crispEdges"/>
<rect x="262" y="0" width="25" height="1" fill="#a0a0a0" shape-rendering="crispEdges"/><rect x="262" y="0" width="1" height="23" fill="#a0a0a0" shape-rendering="crispEdges"/>
<rect x="286" y="1" width="1" height="22" fill="#fff" shape-rendering="crispEdges"/><rect x="263" y="22" width="24" height="1" fill="#fff" shape-rendering="crispEdges"/>
<path d="M270.3 5.5V20M268.0 17.2H282.0" stroke="#555" stroke-width="1.2" fill="none"/>
<path d="M268.5 7.7L270.3 5.5L272.1 7.7M279.8 15.399999999999999L282.0 17.2L279.8 19.0" stroke="#555" stroke-width="1.1" fill="none"/>
<path d="M276.6 4V16" stroke="#0a7a0a" stroke-width="1.2"/><rect x="274.5" y="6" width="4.3" height="7.6" fill="#1fd11f" stroke="#0a7a0a" stroke-width="0.9"/>
<path d="M298.5 5.5V20M296.2 17.2H310.2" stroke="#555" stroke-width="1.2" fill="none"/>
<path d="M296.7 7.7L298.5 5.5L300.3 7.7M308.0 15.399999999999999L310.2 17.2L308.0 19.0" stroke="#555" stroke-width="1.1" fill="none"/>
<path d="M297.2 15Q300.5 9.5 303 9.1Q305.6 9.3 309 13.4" stroke="#1a8a1a" stroke-width="1.3" fill="none"/>
<rect x="319" y="2" width="1" height="20" fill="#a0a0a0" shape-rendering="crispEdges"/><rect x="320" y="2" width="1" height="20" fill="#fff" shape-rendering="crispEdges"/>
<path d="M337.20000000000005 13.6L342.8 18.8" stroke="#a88418" stroke-width="3.4" stroke-linecap="round"/><path d="M337.40000000000003 13.6L342.6 18.5" stroke="#f0cf4a" stroke-width="1.8" stroke-linecap="round"/>
<circle cx="333.6" cy="9.8" r="5" fill="#d4e8fb" stroke="#3d7fd0" stroke-width="1.4"/>
<path d="M330.8 9.8H336.40000000000003" stroke="#2f6fc4" stroke-width="1.7"/>
<path d="M333.6 7V12.6" stroke="#2f6fc4" stroke-width="1.7"/>
<path d="M365.40000000000003 13.6L371.0 18.8" stroke="#a88418" stroke-width="3.4" stroke-linecap="round"/><path d="M365.6 13.6L370.8 18.5" stroke="#f0cf4a" stroke-width="1.8" stroke-linecap="round"/>
<circle cx="361.8" cy="9.8" r="5" fill="#d4e8fb" stroke="#3d7fd0" stroke-width="1.4"/>
<path d="M359.0 9.8H364.6" stroke="#2f6fc4" stroke-width="1.7"/>
<rect x="384.4" y="4.4" width="7.6" height="7.4" fill="#4c9c1e"/><rect x="385.7" y="7.4" width="5" height="3" fill="#fff" opacity="0.85"/><rect x="385.7" y="8.600000000000001" width="5" height="0.8" fill="#4c9c1e" opacity="0.7"/>
<rect x="392.4" y="4.4" width="7.6" height="7.4" fill="#1f4fc4"/><rect x="393.7" y="7.4" width="5" height="3" fill="#fff" opacity="0.85"/><rect x="393.7" y="8.600000000000001" width="5" height="0.8" fill="#1f4fc4" opacity="0.7"/>
<rect x="384.4" y="12.2" width="7.6" height="7.4" fill="#1f4fc4"/><rect x="385.7" y="15.2" width="5" height="3" fill="#fff" opacity="0.85"/><rect x="385.7" y="16.4" width="5" height="0.8" fill="#1f4fc4" opacity="0.7"/>
<rect x="392.4" y="12.2" width="7.6" height="7.4" fill="#4c9c1e"/><rect x="393.7" y="15.2" width="5" height="3" fill="#fff" opacity="0.85"/><rect x="393.7" y="16.4" width="5" height="0.8" fill="#4c9c1e" opacity="0.7"/>
<rect x="409" y="2" width="1" height="20" fill="#a0a0a0" shape-rendering="crispEdges"/><rect x="410" y="2" width="1" height="20" fill="#fff" shape-rendering="crispEdges"/>
<rect x="414" y="0" width="25" height="23" fill="#f9f9f9" shape-rendering="crispEdges"/>
<rect x="414" y="0" width="25" height="1" fill="#a0a0a0" shape-rendering="crispEdges"/><rect x="414" y="0" width="1" height="23" fill="#a0a0a0" shape-rendering="crispEdges"/>
<rect x="438" y="1" width="1" height="22" fill="#fff" shape-rendering="crispEdges"/><rect x="415" y="22" width="24" height="1" fill="#fff" shape-rendering="crispEdges"/>
<path d="M422.5 5.5V20M420.2 17.2H434.2" stroke="#555" stroke-width="1.2" fill="none"/>
<path d="M420.7 7.7L422.5 5.5L424.3 7.7M432.0 15.399999999999999L434.2 17.2L432.0 19.0" stroke="#555" stroke-width="1.1" fill="none"/>
<polygon points="427.2,8.4 427.2,14.8 431,11.6" fill="#eaffea" stroke="#1a9a1a" stroke-width="1.1"/>
<rect x="442" y="0" width="25" height="23" fill="#f9f9f9" shape-rendering="crispEdges"/>
<rect x="442" y="0" width="25" height="1" fill="#a0a0a0" shape-rendering="crispEdges"/><rect x="442" y="0" width="1" height="23" fill="#a0a0a0" shape-rendering="crispEdges"/>
<rect x="466" y="1" width="1" height="22" fill="#fff" shape-rendering="crispEdges"/><rect x="443" y="22" width="24" height="1" fill="#fff" shape-rendering="crispEdges"/>
<path d="M450.4 5.5V20M448.09999999999997 17.2H462.09999999999997" stroke="#555" stroke-width="1.2" fill="none"/>
<path d="M448.59999999999997 7.7L450.4 5.5L452.2 7.7M459.9 15.399999999999999L462.09999999999997 17.2L459.9 19.0" stroke="#555" stroke-width="1.1" fill="none"/>
<path d="M456.7 5.6V15.8" stroke="#1d5fc0" stroke-width="1.3"/><path d="M458.4 11.7H462.2" stroke="#d03010" stroke-width="1.2"/><polygon points="457.8,11.7 460.6,9.6 460.6,13.8" fill="#d03010"/>
<rect x="471" y="2" width="1" height="20" fill="#a0a0a0" shape-rendering="crispEdges"/><rect x="472" y="2" width="1" height="20" fill="#fff" shape-rendering="crispEdges"/>
<path d="M481.5 5.2H489L492.6 8.6V17.4H481.5Z" fill="#fbfbfb" stroke="#8a8a8a" stroke-width="0.9"/><path d="M489 5.2V8.6H492.6" fill="#e0e0e0" stroke="#8a8a8a" stroke-width="0.7"/>
<path d="M486.6 8.4q-1.6 -.2 -1.6 1.6V14M483.8 11H486.4" stroke="#555" stroke-width="0.9" fill="none"/>
<path d="M489.6 10.8h3v3.7h3.7v3h-3.7v3.7h-3v-3.7h-3.7v-3h3.7z" fill="#22c322" stroke="#0a7d0a" stroke-width="0.8" stroke-linejoin="miter"/>
<polygon points="502.8,11 508.8,11 505.8,14" fill="#000"/>
<circle cx="527" cy="11.7" r="7" fill="#f4f8ff" stroke="#1f5fc8" stroke-width="2.2"/><circle cx="527" cy="11.7" r="8" fill="none" stroke="#123f94" stroke-width="0.6"/>
<path d="M527 7.6V12H530.2" stroke="#444" stroke-width="1.1" fill="none"/>
<polygon points="541.7,11 547.7,11 544.7,14" fill="#000"/>
<rect x="558.3" y="5.3" width="15.2" height="13.4" fill="#fff" stroke="#2f6fc8" stroke-width="1.1"/><rect x="558.3" y="5.3" width="15.2" height="2.4" fill="#2f6fc8"/><path d="M558.5 13.4H573.4" stroke="#2f6fc8" stroke-width="0.9"/>
<path d="M560 11.4L563 10.4L565 11L568 9.4L570 10.2L572 9.2" stroke="#c02010" stroke-width="1.1" fill="none"/><path d="M560 16.6L563 15.6L565 16.4L568 14.6L570 16L572 15.4" stroke="#1a9a1a" stroke-width="1.1" fill="none"/>
<polygon points="580.6,11 586.6,11 583.6,14" fill="#000"/>
<rect x="592" y="0" width="1" height="24" fill="#a0a0a0" shape-rendering="crispEdges"/><rect x="593" y="0" width="1" height="24" fill="#fff" shape-rendering="crispEdges"/>
<rect x="596" y="3" width="3" height="1" fill="#b4b4b4" shape-rendering="crispEdges"/>
<rect x="596" y="5" width="3" height="1" fill="#b4b4b4" shape-rendering="crispEdges"/>
<rect x="596" y="7" width="3" height="1" fill="#b4b4b4" shape-rendering="crispEdges"/>
<rect x="596" y="9" width="3" height="1" fill="#b4b4b4" shape-rendering="crispEdges"/>
<rect x="596" y="11" width="3" height="1" fill="#b4b4b4" shape-rendering="crispEdges"/>
<rect x="596" y="13" width="3" height="1" fill="#b4b4b4" shape-rendering="crispEdges"/>
<rect x="596" y="15" width="3" height="1" fill="#b4b4b4" shape-rendering="crispEdges"/>
<rect x="596" y="17" width="3" height="1" fill="#b4b4b4" shape-rendering="crispEdges"/>
<rect x="596" y="19" width="3" height="1" fill="#b4b4b4" shape-rendering="crispEdges"/>
<rect x="602" y="0" width="25" height="23" fill="#f9f9f9" shape-rendering="crispEdges"/>
<rect x="602" y="0" width="25" height="1" fill="#a0a0a0" shape-rendering="crispEdges"/><rect x="602" y="0" width="1" height="23" fill="#a0a0a0" shape-rendering="crispEdges"/>
<rect x="626" y="1" width="1" height="22" fill="#fff" shape-rendering="crispEdges"/><rect x="603" y="22" width="24" height="1" fill="#fff" shape-rendering="crispEdges"/>
<polygon points="610.1,5 610.1,16.6 612.9,14.2 615.1,19 617,18.1 614.8,13.5 618.4,13.2" fill="#404040"/>
<path d="M642.4 4.8V10.8M642.4 13.8V19.8M634.9 12.3H640.9M643.9 12.3H649.9" stroke="#555" stroke-width="1.2"/>
<rect x="659" y="2" width="1" height="20" fill="#a0a0a0" shape-rendering="crispEdges"/><rect x="660" y="2" width="1" height="20" fill="#fff" shape-rendering="crispEdges"/>
<path d="M676.6 5.6V18.8" stroke="#555" stroke-width="1.3"/>
<path d="M699 12.3H711" stroke="#555" stroke-width="1.3"/>
<path d="M726.8 19L739 6.9" stroke="#555" stroke-width="1.3"/>
<path d="M752.8 13.6L765.6 5.6M754.6 18.2L767.4 10.2" stroke="#555" stroke-width="1.1"/><path d="M756 11.6L757.6 16.2M759 9.7L760.6 14.4M762 7.8L763.6 12.5M765 6L766.4 10.8" stroke="#555" stroke-width="0.9"/>
<text x="763.6" y="20.4" font-family="Liberation Sans" font-size="6.5" font-weight="bold" fill="#333">E</text>
<path d="M782 5.3H795.8" stroke="#555" stroke-width="1" stroke-dasharray="1,1"/>
<path d="M782 8.7H795.8" stroke="#555" stroke-width="1" stroke-dasharray="1,1"/>
<path d="M782 12.4H795.8" stroke="#555" stroke-width="1" stroke-dasharray="1,1"/>
<path d="M782 16.4H791" stroke="#555" stroke-width="1" stroke-dasharray="1,1"/>
<text x="791.6" y="20.4" font-family="Liberation Sans" font-size="6.5" font-weight="bold" fill="#333">F</text>
<text x="812.2" y="16.7" font-family="Liberation Sans" font-size="12" fill="#555">A</text>
<rect x="838.8" y="5.8" width="11.8" height="12.8" fill="none" stroke="#555" stroke-width="1" stroke-dasharray="1,1"/><text x="840.7" y="16.6" font-family="Liberation Sans" font-size="11.5" font-weight="bold" fill="#555">T</text>
<polygon points="869,5.6 872,8.6 869,10.4 866,8.6" fill="#444"/><polygon points="876.8,13.6 880.2,15.8 876.8,19 873.4,15.8" fill="#444"/><path d="M867.8 12.6L870.2 15.2L874.6 9.6" stroke="#444" stroke-width="1.3" fill="none"/>
<polygon points="886.6,11 892.6,11 889.6,14" fill="#000"/>
<rect x="898" y="0" width="1" height="24" fill="#a0a0a0" shape-rendering="crispEdges"/><rect x="899" y="0" width="1" height="24" fill="#fff" shape-rendering="crispEdges"/>
<rect x="902" y="3" width="3" height="1" fill="#b4b4b4" shape-rendering="crispEdges"/>
<rect x="902" y="5" width="3" height="1" fill="#b4b4b4" shape-rendering="crispEdges"/>
<rect x="902" y="7" width="3" height="1" fill="#b4b4b4" shape-rendering="crispEdges"/>
<rect x="902" y="9" width="3" height="1" fill="#b4b4b4" shape-rendering="crispEdges"/>
<rect x="902" y="11" width="3" height="1" fill="#b4b4b4" shape-rendering="crispEdges"/>
<rect x="902" y="13" width="3" height="1" fill="#b4b4b4" shape-rendering="crispEdges"/>
<rect x="902" y="15" width="3" height="1" fill="#b4b4b4" shape-rendering="crispEdges"/>
<rect x="902" y="17" width="3" height="1" fill="#b4b4b4" shape-rendering="crispEdges"/>
<rect x="902" y="19" width="3" height="1" fill="#b4b4b4" shape-rendering="crispEdges"/>
<rect x="1076" y="0" width="25" height="23" fill="#f9f9f9" shape-rendering="crispEdges"/>
<rect x="1076" y="0" width="25" height="1" fill="#a0a0a0" shape-rendering="crispEdges"/><rect x="1076" y="0" width="1" height="23" fill="#a0a0a0" shape-rendering="crispEdges"/>
<rect x="1100" y="1" width="1" height="22" fill="#fff" shape-rendering="crispEdges"/><rect x="1077" y="22" width="24" height="1" fill="#fff" shape-rendering="crispEdges"/>
<rect x="1159" y="0" width="1" height="24" fill="#a0a0a0" shape-rendering="crispEdges"/><rect x="1160" y="0" width="1" height="24" fill="#fff" shape-rendering="crispEdges"/>
<path d="M1626.6 12.4L1621.6 17.2" stroke="#2a5fd0" stroke-width="2.6" stroke-linecap="round"/><circle cx="1629.6" cy="9.6" r="3.8" fill="#fbfcff" stroke="#2a5fd0" stroke-width="1.1"/>
<path d="M1661 4.6c3.6 0 6.4 2.2 6.4 4.9c0 2 -1.4 3.6 -3.4 4.4l.8 2.2l-2.8 -1.8c-4 .3 -7.2 -1.9 -7.2 -4.8c0 -2.700 2.700 -4.900 6.200 -4.900z" fill="#f4f4f8" stroke="#8c8c8c" stroke-width="1"/>
<path d="M1653 9.6c2.800 0 5 1.800 5 4c0 2.300 -2.300 4.100 -5.200 4l-2.600 1.600l.6 -2.200c-1.700 -.7 -2.800 -2 -2.800 -3.400c0 -2.200 2.200 -4 5 -4z" fill="#f6f6fa" stroke="#8c8c8c" stroke-width="1"/>
</g>
</svg>
<div class="bignum sh" style="left:1196.8px;top:356.8px">1.29549</div><div class="bignum" style="left:1195.8px;top:355.8px">1.29549</div>
<div class="yl" style="top:44px">1.33860</div><div class="yl" style="top:77px">1.33410</div><div class="yl" style="top:110px">1.32950</div><div class="yl" style="top:143px">1.32490</div><div class="yl" style="top:176px">1.32030</div><div class="yl" style="top:209px">1.31570</div><div class="yl" style="top:242px">1.31110</div><div class="yl" style="top:275px">1.30660</div><div class="yl" style="top:308px">1.30200</div><div class="yl" style="top:341px">1.29740</div><div class="yl" style="top:374px">1.29280</div><div class="yl" style="top:407px">1.28820</div><div class="yl" style="top:440px">1.28370</div><div class="yl" style="top:473px">1.27910</div><div class="yl" style="top:506px">1.27450</div><div class="yl" style="top:539px">1.26990</div><div class="yl" style="top:572px">1.26530</div><div class="yl" style="top:584px;left:1631px">0.012088</div><div class="yl" style="top:709.5px;left:1631px">0.00</div><div class="yl" style="top:753.5px;left:1631px">-0.004615</div><div class="yl" style="top:769.5px;left:1631px">100</div><div class="yl" style="top:795.5px;left:1631px">80</div><div class="yl" style="top:842.5px;left:1631px">50</div><div class="yl" style="top:898.5px;left:1631px">15</div><div class="yl" style="top:916px;left:1631px">0</div>
<div class="pb" style="top:326px;background:#ff0000">1.29951</div><div class="pb" style="top:340px;background:#ff0000">1.29757</div><div class="pb" style="top:355px;background:#32cd32">1.29549</div><div class="pb" style="top:371px;background:#000000">1.29333</div><div class="pb" style="top:394px;background:#0000ff">1.29008</div><div class="pb" style="top:416px;background:#0000ff">1.28700</div>
<div class="dl" style="left:-1.6px">8 Jan 2019</div><div class="dl" style="left:63px">13 Jan 2019</div><div class="dl" style="left:127px">17 Jan 2019</div><div class="dl" style="left:191px">22 Jan 2019</div><div class="dl" style="left:255px">27 Jan 2019</div><div class="dl" style="left:319px">31 Jan 2019</div><div class="dl" style="left:383px">5 Feb 2019</div><div class="dl" style="left:447px">10 Feb 2019</div><div class="dl" style="left:511px">14 Feb 2019</div><div class="dl" style="left:575px">19 Feb 2019</div><div class="dl" style="left:639px">24 Feb 2019</div><div class="dl" style="left:703px">28 Feb 2019</div><div class="dl" style="left:767px">5 Mar 2019</div><div class="dl" style="left:831px">10 Mar 2019</div><div class="dl" style="left:895px">14 Mar 2019</div><div class="dl" style="left:959px">19 Mar 2019</div><div class="dl" style="left:1023px">24 Mar 2019</div><div class="dl" style="left:1087px">28 Mar 2019</div><div class="dl" style="left:1151px">2 Apr 2019</div><div class="dl" style="left:1215px">7 Apr 2019</div><div class="dl" style="left:1279px">11 Apr 2019</div><div class="dl" style="left:1343px">16 Apr 2019</div><div class="dl" style="left:1407px">22 Apr 2019</div>
<div style="position:absolute;left:3px;top:35px;width:0;height:0;border-left:3.5px solid transparent;border-right:3.5px solid transparent;border-bottom:4px solid #000"></div>
<div class="lbl" style="left:15px;top:31px;font-size:9.3px">GBPUSD-,Daily&nbsp; 1.29797 1.30178 1.29275 1.29333</div>
<div class="lbl" style="left:4px;top:586px;font-size:9.33px">MACD(12,26,9) -0.003856 -0.002500</div>
<div class="lbl" style="left:4px;top:771px;font-size:9.3px">RSI(14) 36.6711</div>
<div id="oc">
 <div class="red" style="left:0;top:0;width:51px;height:64px"></div>
 <div class="red" style="left:0;top:24px;width:109px;height:40px;background:linear-gradient(#d42525 0%,#b80000 100%)"></div>
 <div class="red" style="left:168px;top:0;width:51px;height:64px"></div>
 <div class="red" style="left:111px;top:24px;width:108px;height:40px;background:linear-gradient(#d42525 0%,#b80000 100%)"></div>
 <div style="position:absolute;left:4px;top:23px;width:44px;height:1px;background:#f08080"></div>
 <div style="position:absolute;left:171px;top:23px;width:44px;height:1px;background:#f08080"></div>
 <div style="position:absolute;left:54px;top:0;width:111px;height:22px;background:#fff;border:1px solid #adadad;box-sizing:border-box"></div>
 <div style="position:absolute;left:55px;top:1px;width:21px;height:20px;background:#e6e6e6;border-right:1px solid #adadad;box-sizing:border-box"></div>
 <div style="position:absolute;left:143px;top:1px;width:21px;height:20px;background:#e6e6e6;border-left:1px solid #adadad;box-sizing:border-box"></div>
 <div style="position:absolute;left:62px;top:9px;width:0;height:0;border-left:3px solid transparent;border-right:3px solid transparent;border-top:3px solid #000"></div>
 <div style="position:absolute;left:150px;top:9px;width:0;height:0;border-left:3px solid transparent;border-right:3px solid transparent;border-bottom:3px solid #000"></div>
 <div class="oct" style="left:76px;top:3.5px;width:64px;text-align:right;color:#000;font-size:12px;line-height:15px">1.00</div>
 <div class="oct" style="left:0;top:4.5px;width:51px;text-align:center;font-size:11px;line-height:15px">SELL</div>
 <div class="oct" style="left:168px;top:4.5px;width:51px;text-align:center;font-size:11px;line-height:15px">BUY</div>
 <div class="oct" style="left:20px;top:43.5px;font-size:11.5px;font-weight:bold;line-height:14px">1.29</div>
 <div class="oct" style="left:48px;top:27px;font-size:31px;line-height:34px;letter-spacing:-1px">33</div>
 <div class="oct" style="left:87px;top:28.5px;font-size:12px;font-weight:bold;line-height:14px">3</div>
 <div class="oct" style="left:131px;top:43.5px;font-size:11.5px;font-weight:bold;line-height:14px">1.29</div>
 <div class="oct" style="left:159px;top:27px;font-size:31px;line-height:34px;letter-spacing:-1px">35</div>
 <div class="oct" style="left:198px;top:28.5px;font-size:12px;font-weight:bold;line-height:14px">9</div>
</div>
<div class="tf" style="left:913px">M1</div><div class="tf" style="left:941px">M5</div><div class="tf" style="left:968px">M15</div><div class="tf" style="left:995px">M30</div><div class="tf" style="left:1026px">H1</div><div class="tf" style="left:1053px">H4</div><div class="tf" style="left:1082px">D1</div><div class="tf" style="left:1110px">W1</div><div class="tf" style="left:1137px">MN</div>
</body></html>
